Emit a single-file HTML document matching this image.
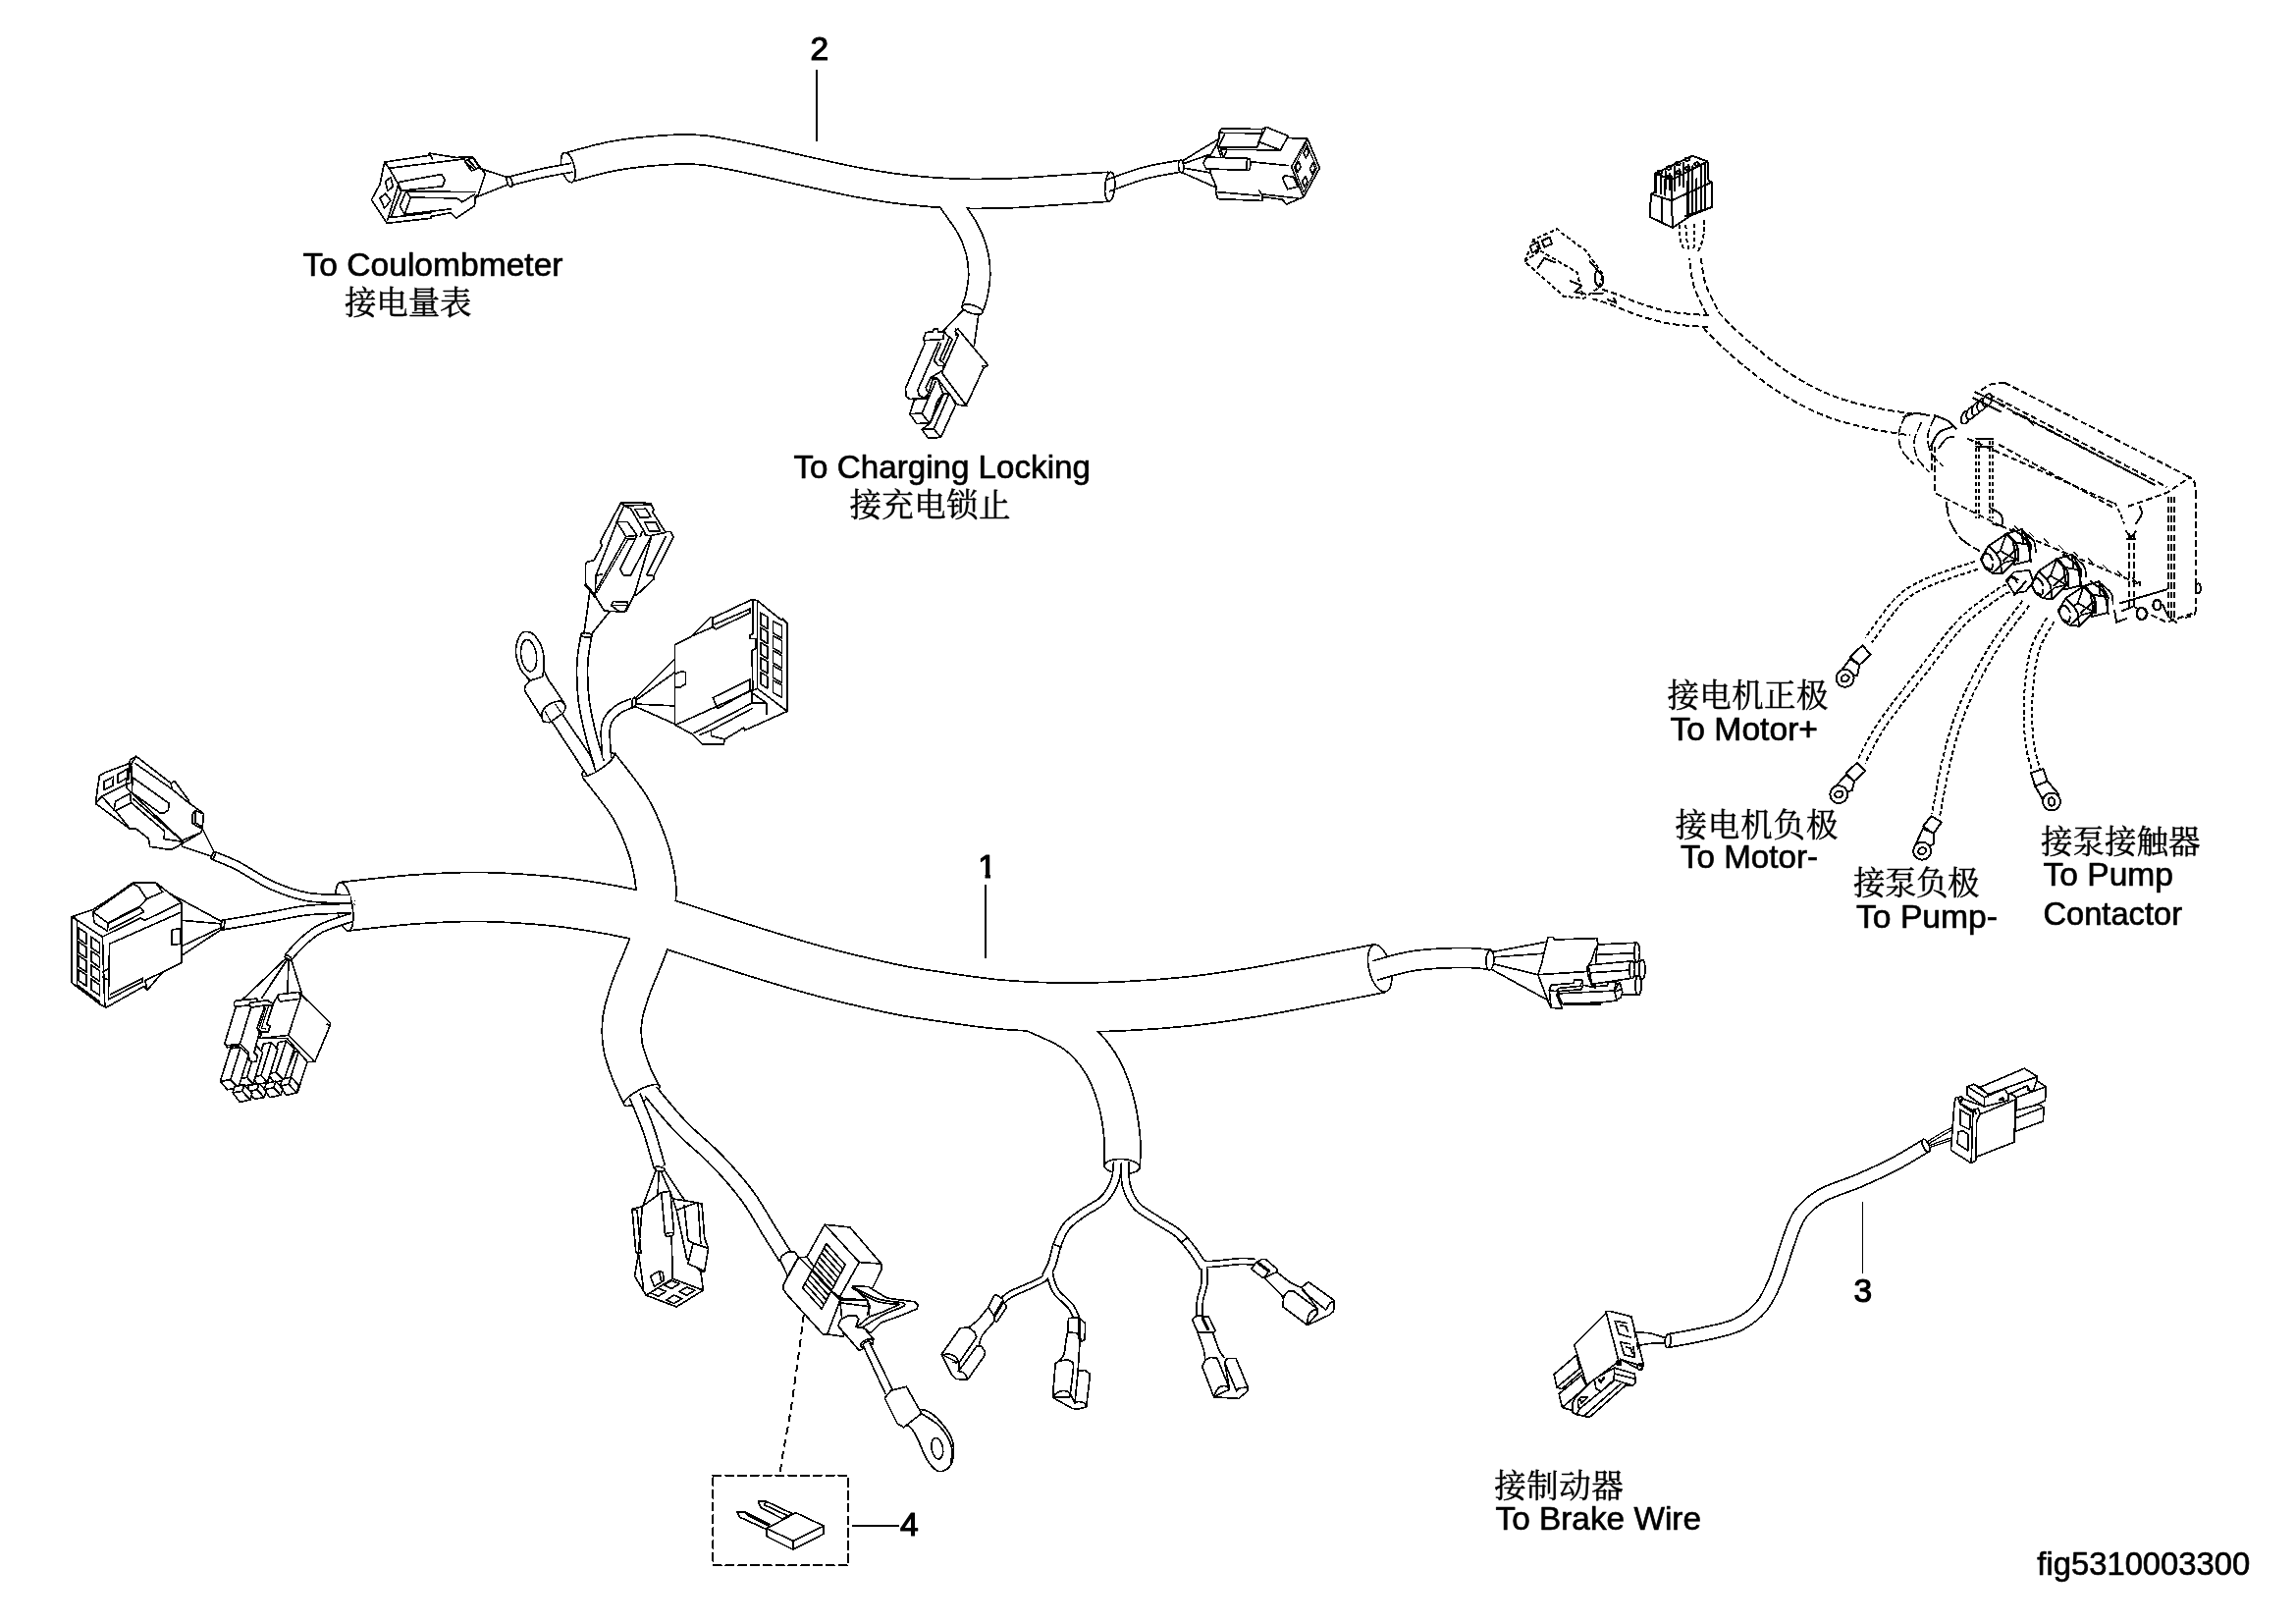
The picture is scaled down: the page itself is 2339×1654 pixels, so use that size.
<!DOCTYPE html>
<html lang="zh"><head><meta charset="utf-8"><title>fig5310003300</title>
<style>html,body{margin:0;padding:0;background:#fff}body{width:2339px;height:1654px;overflow:hidden}svg{display:block;filter:grayscale(1)}</style>
</head><body>
<svg width="2339" height="1654" viewBox="0 0 2339 1654" stroke-linejoin="round" stroke-linecap="round" shape-rendering="crispEdges">
<rect width="2339" height="1654" fill="#fff"/>
<path d="M578.8 170.6C586.5 168.6 608.8 161.8 625.3 158.8C641.8 155.8 662.4 153.8 677.6 152.8C692.9 151.8 701.5 151.3 716.8 153C732 154.7 751.7 159.1 769.1 162.7C786.5 166.3 803.9 170.7 821.3 174.5C838.7 178.3 856.2 182.5 873.6 185.7C891 188.9 908.5 191.7 925.9 193.6C943.3 195.5 960.7 196.7 978.1 197.2C995.5 197.7 1013 197.3 1030.4 196.7C1047.8 196 1065.9 194.4 1082.6 193.3C1099.3 192.2 1122.5 190.7 1130.5 190.2" fill="none" stroke="#000" stroke-width="31.7" stroke-linecap="butt" />
<path d="M966.4 204.5C969.7 209.3 981.2 224.6 986 233.3C990.8 242 993.1 249 995.1 256.8C997.1 264.6 997.8 272.7 997.7 280.3C997.6 287.9 995.8 296.9 994.6 302.5C993.4 308.1 991.4 311.9 990.7 313.8" fill="none" stroke="#000" stroke-width="23.7" stroke-linecap="butt" />
<path d="M578.8 170.6C586.5 168.6 608.8 161.8 625.3 158.8C641.8 155.8 662.4 153.8 677.6 152.8C692.9 151.8 701.5 151.3 716.8 153C732 154.7 751.7 159.1 769.1 162.7C786.5 166.3 803.9 170.7 821.3 174.5C838.7 178.3 856.2 182.5 873.6 185.7C891 188.9 908.5 191.7 925.9 193.6C943.3 195.5 960.7 196.7 978.1 197.2C995.5 197.7 1013 197.3 1030.4 196.7C1047.8 196 1065.9 194.4 1082.6 193.3C1099.3 192.2 1122.5 190.7 1130.5 190.2" fill="none" stroke="#fff" stroke-width="28.3" stroke-linecap="butt"/>
<path d="M966.4 204.5C969.7 209.3 981.2 224.6 986 233.3C990.8 242 993.1 249 995.1 256.8C997.1 264.6 997.8 272.7 997.7 280.3C997.6 287.9 995.8 296.9 994.6 302.5C993.4 308.1 991.4 311.9 990.7 313.8" fill="none" stroke="#fff" stroke-width="20.3" stroke-linecap="butt"/>
<ellipse cx="578.8" cy="170.6" rx="6.5" ry="15.5" transform="rotate(-14 578.8 170.6)" fill="#fff" stroke="#000" stroke-width="1.7" />
<path d="M582.7 170.7C577.5 171.7 562.4 174.2 551.7 176.5C541 178.8 524.2 183.3 518.7 184.7" fill="none" stroke="#000" stroke-width="10.7" stroke-linecap="butt" />
<path d="M582.7 170.7C577.5 171.7 562.4 174.2 551.7 176.5C541 178.8 524.2 183.3 518.7 184.7" fill="none" stroke="#fff" stroke-width="7.3" stroke-linecap="butt"/>
<ellipse cx="519.1" cy="184.8" rx="2.5" ry="5.5" transform="rotate(-20 519.1 184.8)" fill="#fff" stroke="#000" stroke-width="1.7" />
<path d="M391.7 165.1L437.2 158.3L437.2 156.1L441.9 156.8L463.9 160.4L481.9 160.1L488.2 169L494.4 176.8L487.4 198L484.3 200.3L483.5 209.8L464.7 222.3L459.2 216.8L438.8 220.4L438.8 222.3L394.1 227.3L378.4 203.5L387 187.8Z" fill="#fff" stroke="#000" stroke-width="1.7" />
<path d="M396.4 171.3L473.3 161.9" fill="none" stroke="#000" stroke-width="1.7" />
<path d="M391.7 165.1L396.4 171.3L405.9 187.8L394.9 223.9" fill="none" stroke="#000" stroke-width="1.7" />
<path d="M405.9 187.8L409 194.1L398 221.5L438.8 216.8" fill="none" stroke="#000" stroke-width="1.7" />
<path d="M392.5 184.7L398 180.7L400.4 190.2L394.9 194.1Z" fill="none" stroke="#000" stroke-width="1.7" />
<path d="M387 201.9L392.5 197.2L398 204.3L391.7 212.1Z" fill="none" stroke="#000" stroke-width="1.7" />
<path d="M405.9 185.5L449.8 177.6L453.2 183.1L451 189.7L407.7 194.4Z" fill="none" stroke="#000" stroke-width="1.7" />
<path d="M413.7 194.9L484.3 195.6" fill="none" stroke="#000" stroke-width="1.7" />
<path d="M413.7 194.9L407.4 209.8L412.1 218.4L418.4 201.1L465.4 201.9L470.9 205.8L483.5 198" fill="none" stroke="#000" stroke-width="1.7" />
<path d="M412.1 218.4L459.2 212.9" fill="none" stroke="#000" stroke-width="1.7" />
<path d="M413.7 194.9L418.4 201.1" fill="none" stroke="#000" stroke-width="1.7" />
<path d="M473.3 164.3L481.9 160.4L488.2 170.6L480.3 174Z" fill="none" stroke="#000" stroke-width="1.7" />
<path d="M475.2 165.9L483 172.4" fill="none" stroke="#000" stroke-width="1.7" />
<path d="M476.7 162.7L485 171.3" fill="none" stroke="#000" stroke-width="1.7" />
<path d="M488.2 171.3L517.2 180.7" fill="none" stroke="#000" stroke-width="1.7" />
<path d="M484.3 201.1L517.2 188.1" fill="none" stroke="#000" stroke-width="1.7" />
<path d="M440.3 161.9L438 156.4" fill="none" stroke="#000" stroke-width="1.7" />
<path d="M1128.1 189.2C1134.3 187.1 1153 179.7 1165.3 176.4C1177.6 173.1 1195.6 170.5 1201.7 169.3" fill="none" stroke="#000" stroke-width="13.7" stroke-linecap="butt" />
<path d="M1128.1 189.2C1134.3 187.1 1153 179.7 1165.3 176.4C1177.6 173.1 1195.6 170.5 1201.7 169.3" fill="none" stroke="#fff" stroke-width="10.3" stroke-linecap="butt"/>
<ellipse cx="1130.7" cy="190.2" rx="5" ry="15" transform="rotate(4 1130.7 190.2)" fill="none" stroke="#000" stroke-width="1.7" />
<ellipse cx="1203.2" cy="169.5" rx="2.6" ry="6.5" transform="rotate(-5 1203.2 169.5)" fill="#fff" stroke="#000" stroke-width="1.7" />
<path d="M1204.5 164L1241.1 141.8" fill="none" stroke="#000" stroke-width="1.7" />
<path d="M1205.8 166.6L1232 157.5" fill="none" stroke="#000" stroke-width="1.7" />
<path d="M1206.5 171.2L1232 175.8" fill="none" stroke="#000" stroke-width="1.7" />
<path d="M1204.5 175.8L1238.5 190.8" fill="none" stroke="#000" stroke-width="1.7" />
<path d="M1241.8 135.3L1244.4 130.7L1285.5 131.6L1290.1 129.4L1312.3 138.5L1311.7 140.5L1331.9 141.2L1344.3 171.2L1328 200.6L1310.4 208.2L1306.4 203.2L1286.8 200.6L1286.2 204.5L1240.5 202.6L1238.5 195.4L1239.2 190.8L1233.3 176.4L1232.6 158.8L1239.8 147L1241.8 141.8Z" fill="#fff" stroke="#000" stroke-width="1.7" />
<path d="M1241.8 135.3L1285.5 135.9L1285.5 131.6" fill="none" stroke="#000" stroke-width="1.7" />
<path d="M1247.6 136.6L1241.8 149" fill="none" stroke="#000" stroke-width="1.7" />
<path d="M1285.5 135.9L1281 149.7L1240.5 150.3" fill="none" stroke="#000" stroke-width="1.7" />
<path d="M1290.1 129.4L1312.3 138.5L1304.5 152.9L1282.3 144.4Z" fill="#fff" stroke="#000" stroke-width="1.7" />
<path d="M1245.7 158.8L1243.7 152.3L1303.8 152.9" fill="none" stroke="#000" stroke-width="1.7" />
<path d="M1249.6 153.6L1247 159.5" fill="none" stroke="#000" stroke-width="1.7" />
<path d="M1239.8 147L1243.7 158.8" fill="none" stroke="#000" stroke-width="1.7" />
<path d="M1229.4 160.1L1272.5 161.4L1271.2 173.4L1228.7 171.9L1225.7 166Z" fill="#fff" stroke="#000" stroke-width="1.7" />
<ellipse cx="1271.8" cy="167.4" rx="2" ry="6" transform="rotate(3 1271.8 167.4)" fill="#fff" stroke="#000" stroke-width="1.7" />
<path d="M1273.8 164.7L1312.3 168.6" fill="none" stroke="#000" stroke-width="1.7" />
<path d="M1331.9 141.2L1344.3 171.2L1328 200.6L1315.6 169.9Z" fill="#fff" stroke="#000" stroke-width="1.7" />
<path d="M1330.7 145.7L1341.5 171.2L1328.1 196L1318.5 170.2Z" fill="none" stroke="#000" stroke-width="1.2" />
<path d="M1327.9 155.7L1331 150L1333.4 155.4L1330.2 161Z" fill="none" stroke="#000" stroke-width="1.7" />
<path d="M1319.6 170L1322.8 164.4L1325.1 169.8L1322 175.4Z" fill="none" stroke="#000" stroke-width="1.7" />
<path d="M1334.4 171.7L1337.5 166.1L1339.9 171.5L1336.8 177.1Z" fill="none" stroke="#000" stroke-width="1.7" />
<path d="M1326.6 185.1L1329.7 179.4L1332.1 184.8L1328.9 190.4Z" fill="none" stroke="#000" stroke-width="1.7" />
<path d="M1306.4 181L1309.1 179.1L1317.6 180L1322.1 190.2L1311.7 192.8Z" fill="none" stroke="#000" stroke-width="1.7" />
<path d="M1238.5 195.4L1282.9 199.3" fill="none" stroke="#000" stroke-width="1.7" />
<path d="M1282.9 194.1L1286.2 199.3L1285.5 204.5" fill="none" stroke="#000" stroke-width="1.7" />
<path d="M1286.8 198L1322.1 201.9" fill="none" stroke="#000" stroke-width="1.7" />
<ellipse cx="990.6" cy="315.1" rx="11" ry="4.2" transform="rotate(17 990.6 315.1)" fill="#fff" stroke="#000" stroke-width="1.7" />
<path d="M981.8 315.1L960.7 337.3" fill="none" stroke="#000" stroke-width="1.7" />
<path d="M997 319.8L992.3 352.5" fill="none" stroke="#000" stroke-width="1.7" />
<path d="M975.9 335L1006.4 371.8L1001.7 375.4L984.1 413.4L975.4 412.2L954.9 385.3L947.9 384.7L960.7 377.1L976.5 340.8L973 337.3Z" fill="#fff" stroke="#000" stroke-width="1.7" />
<path d="M960.7 377.1L959.6 380L984.7 413.4" fill="none" stroke="#000" stroke-width="1.7" />
<path d="M943.2 338.5L950.2 337.9L951.4 335L954.9 335L956 337.9L961.9 337.9L967.2 343.8L957.2 366.6L961.9 370.1L960.7 377.1L947.9 384.7L943.2 394.7L944.3 398.2L947.3 399.3L942 405.2L940.8 406.1L926.8 406.4L923.3 404L922.4 395.8L942 350.2L940.8 344.9Z" fill="#fff" stroke="#000" stroke-width="1.7" />
<path d="M942 346.7L960.7 345.5L961.9 337.9" fill="none" stroke="#000" stroke-width="1.7" />
<path d="M956 349L935 397L936.2 402.8L942 405.2" fill="none" stroke="#000" stroke-width="1.7" />
<path d="M958.4 350.2L951.4 367.2L956 372.4L960.7 372.4" fill="none" stroke="#000" stroke-width="1.7" />
<path d="M964.2 340.8L970.1 345.5L960.7 366.6" fill="none" stroke="#000" stroke-width="1.7" />
<path d="M973.6 335L973.6 340.8L976.5 340.8" fill="none" stroke="#000" stroke-width="1.7" />
<path d="M1001.7 375.4L1001.1 372.4L1005.8 372.4" fill="none" stroke="#000" stroke-width="1.7" />
<path d="M931.5 406.9L926.8 421.6L933.8 431.5L946.7 430.9L949 427.4L954.9 408.7L960.7 400.5L954.9 385.3L950.2 386.5L944.3 405.8Z" fill="#fff" stroke="#000" stroke-width="1.7" />
<path d="M926.8 421.6L939.1 421L946.7 430.9" fill="none" stroke="#000" stroke-width="1.7" />
<path d="M939.1 421L953.1 388.8" fill="none" stroke="#000" stroke-width="1.7" />
<path d="M939.1 437.4L945.5 446.1L958.4 445.5L973.6 412.2L967.7 401.1L960.7 400.5L947.9 430.9Z" fill="#fff" stroke="#000" stroke-width="1.7" />
<path d="M939.1 437.4L951.4 436.8L958.4 445.5" fill="none" stroke="#000" stroke-width="1.7" />
<path d="M951.4 436.8L966.6 401.7" fill="none" stroke="#000" stroke-width="1.7" />
<path d="M949 427.4L961.9 400.5" fill="none" stroke="#000" stroke-width="1.7" />
<path d="M350.3 923.3C362.2 922.1 398.9 917.6 422 916C445.1 914.4 466.1 913.2 489 913.5C511.9 913.8 539.8 915.8 559.1 917.5C578.4 919.2 590.8 921.4 604.9 923.6C619 925.8 634 928.7 643.9 930.9C653.8 933.1 660.9 936 664.3 937" fill="none" stroke="#000" stroke-width="51.7" stroke-linecap="butt" />
<path d="M609.4 778.9C614.9 786.2 633.8 809.1 642.1 822.7C650.4 836.4 655 849.4 659.1 860.8C663.2 872.2 665.3 882.9 666.8 891.3C668.3 899.7 668.7 903.5 668.3 911.1C667.9 918.7 665 932.7 664.3 937" fill="none" stroke="#000" stroke-width="42.7" stroke-linecap="butt" />
<path d="M664.3 937C667.7 937.9 669.3 937.7 684.8 942.5C700.3 947.3 732.5 958.3 757.3 966C782.1 973.7 808.1 981.9 833.5 988.8C858.9 995.6 890.4 1002.9 909.8 1007.1C929.2 1011.3 932.4 1011.3 950 1013.9C967.6 1016.5 993.5 1020.7 1015.3 1022.7C1037.1 1024.7 1058.9 1025.7 1080.7 1026C1102.5 1026.3 1124.2 1025.7 1146 1024.7C1167.8 1023.7 1189.5 1022.1 1211.3 1019.8C1233.1 1017.5 1254.9 1014.2 1276.7 1010.7C1298.5 1007.2 1320.5 1002.7 1342 998.6C1363.5 994.5 1395.1 988.3 1405.7 986.2" fill="none" stroke="#000" stroke-width="51.7" stroke-linecap="butt" />
<path d="M664.3 937C663.6 941.2 663.9 950.6 660.4 962C656.9 973.4 647.4 993 643 1005.6C638.6 1018.2 635.5 1027.7 634.1 1037.6C632.7 1047.5 633 1055.9 634.5 1065.1C636 1074.2 639.8 1084.1 643 1092.5C646.2 1100.9 651.9 1111.6 653.7 1115.4" fill="none" stroke="#000" stroke-width="41.7" stroke-linecap="butt" />
<path d="M1035.6 1026.3C1038.7 1027.5 1044.5 1029 1054.2 1033.5C1063.9 1038 1082.7 1045.1 1093.7 1053.1C1104.7 1061.1 1113.1 1070.6 1120.2 1081.5C1127.3 1092.4 1132.4 1105.8 1136.2 1118.5C1140 1131.2 1141.9 1146 1143.1 1157.7C1144.2 1169.4 1143.1 1183.5 1143.1 1188.7" fill="none" stroke="#000" stroke-width="38.3" stroke-linecap="butt" />
<path d="M350.3 923.3C362.2 922.1 398.9 917.6 422 916C445.1 914.4 466.1 913.2 489 913.5C511.9 913.8 539.8 915.8 559.1 917.5C578.4 919.2 590.8 921.4 604.9 923.6C619 925.8 634 928.7 643.9 930.9C653.8 933.1 660.9 936 664.3 937" fill="none" stroke="#fff" stroke-width="48.3" stroke-linecap="butt"/>
<path d="M609.4 778.9C614.9 786.2 633.8 809.1 642.1 822.7C650.4 836.4 655 849.4 659.1 860.8C663.2 872.2 665.3 882.9 666.8 891.3C668.3 899.7 668.7 903.5 668.3 911.1C667.9 918.7 665 932.7 664.3 937" fill="none" stroke="#fff" stroke-width="39.3" stroke-linecap="butt"/>
<path d="M664.3 937C667.7 937.9 669.3 937.7 684.8 942.5C700.3 947.3 732.5 958.3 757.3 966C782.1 973.7 808.1 981.9 833.5 988.8C858.9 995.6 890.4 1002.9 909.8 1007.1C929.2 1011.3 932.4 1011.3 950 1013.9C967.6 1016.5 993.5 1020.7 1015.3 1022.7C1037.1 1024.7 1058.9 1025.7 1080.7 1026C1102.5 1026.3 1124.2 1025.7 1146 1024.7C1167.8 1023.7 1189.5 1022.1 1211.3 1019.8C1233.1 1017.5 1254.9 1014.2 1276.7 1010.7C1298.5 1007.2 1320.5 1002.7 1342 998.6C1363.5 994.5 1395.1 988.3 1405.7 986.2" fill="none" stroke="#fff" stroke-width="48.3" stroke-linecap="butt"/>
<path d="M664.3 937C663.6 941.2 663.9 950.6 660.4 962C656.9 973.4 647.4 993 643 1005.6C638.6 1018.2 635.5 1027.7 634.1 1037.6C632.7 1047.5 633 1055.9 634.5 1065.1C636 1074.2 639.8 1084.1 643 1092.5C646.2 1100.9 651.9 1111.6 653.7 1115.4" fill="none" stroke="#fff" stroke-width="38.3" stroke-linecap="butt"/>
<path d="M1035.6 1026.3C1038.7 1027.5 1044.5 1029 1054.2 1033.5C1063.9 1038 1082.7 1045.1 1093.7 1053.1C1104.7 1061.1 1113.1 1070.6 1120.2 1081.5C1127.3 1092.4 1132.4 1105.8 1136.2 1118.5C1140 1131.2 1141.9 1146 1143.1 1157.7C1144.2 1169.4 1143.1 1183.5 1143.1 1188.7" fill="none" stroke="#fff" stroke-width="34.9" stroke-linecap="butt"/>
<ellipse cx="350.9" cy="923.3" rx="8" ry="25" transform="rotate(-10 350.9 923.3)" fill="#fff" stroke="#000" stroke-width="1.7" />
<ellipse cx="653.7" cy="1115.4" rx="20.5" ry="6" transform="rotate(-28 653.7 1115.4)" fill="#fff" stroke="#000" stroke-width="1.7" />
<ellipse cx="609.4" cy="778.9" rx="19.6" ry="5" transform="rotate(-34 609.4 778.9)" fill="#fff" stroke="#000" stroke-width="1.7" />
<ellipse cx="1405.7" cy="986.2" rx="11" ry="24.5" transform="rotate(-14 1405.7 986.2)" fill="#fff" stroke="#000" stroke-width="1.7" />
<ellipse cx="1143.1" cy="1188" rx="18" ry="7.5" transform="rotate(3 1143.1 1188)" fill="#fff" stroke="#000" stroke-width="1.7" />
<path d="M358 935.1C357.2 935.3 358.2 934.3 353 936.1C347.8 937.9 334 941.9 326.6 945.7C319.2 949.5 314.1 954 308.6 958.9C303.1 963.8 295.9 972.6 293.4 975.3" fill="none" stroke="#000" stroke-width="10.1" stroke-linecap="butt" />
<path d="M357.8 925.3C356.8 925.3 359.4 925 351.8 925.3C344.2 925.6 324.8 925.8 312.2 927.2C299.6 928.6 290.3 931.2 276.1 933.7C261.9 936.2 235.1 940.7 226.9 942.1" fill="none" stroke="#000" stroke-width="11.3" stroke-linecap="butt" />
<path d="M356.8 915.7C356 915.7 359.2 916.1 351.8 915.7C344.4 915.3 324.8 915.7 312.2 913.3C299.6 910.9 287.7 906.5 276.1 901.3C264.5 896.1 252.3 887.1 242.5 882.1C232.7 877.1 221.5 873.1 217.3 871.3" fill="none" stroke="#000" stroke-width="10.1" stroke-linecap="butt" />
<path d="M358 935.1C357.2 935.3 358.2 934.3 353 936.1C347.8 937.9 334 941.9 326.6 945.7C319.2 949.5 314.1 954 308.6 958.9C303.1 963.8 295.9 972.6 293.4 975.3" fill="none" stroke="#fff" stroke-width="6.7" stroke-linecap="butt"/>
<path d="M357.8 925.3C356.8 925.3 359.4 925 351.8 925.3C344.2 925.6 324.8 925.8 312.2 927.2C299.6 928.6 290.3 931.2 276.1 933.7C261.9 936.2 235.1 940.7 226.9 942.1" fill="none" stroke="#fff" stroke-width="7.9" stroke-linecap="butt"/>
<path d="M356.8 915.7C356 915.7 359.2 916.1 351.8 915.7C344.4 915.3 324.8 915.7 312.2 913.3C299.6 910.9 287.7 906.5 276.1 901.3C264.5 896.1 252.3 887.1 242.5 882.1C232.7 877.1 221.5 873.1 217.3 871.3" fill="none" stroke="#fff" stroke-width="6.7" stroke-linecap="butt"/>
<path d="M610.3 777.1C608.8 772.2 604.2 758.3 601.6 747.5C599 736.7 596 724.4 594.6 712.4C593.2 700.4 592.8 686.4 593.3 675.5C593.8 664.6 596.7 651.7 597.4 646.9" fill="none" stroke="#000" stroke-width="12.7" stroke-linecap="butt" />
<path d="M618.2 772.5C618.1 767 615.6 747.4 617.3 739.2C619 731 623.8 727.4 628.4 723.5C633 719.6 642.2 716.9 645 715.6" fill="none" stroke="#000" stroke-width="10.7" stroke-linecap="butt" />
<path d="M610.3 777.1C608.8 772.2 604.2 758.3 601.6 747.5C599 736.7 596 724.4 594.6 712.4C593.2 700.4 592.8 686.4 593.3 675.5C593.8 664.6 596.7 651.7 597.4 646.9" fill="none" stroke="#fff" stroke-width="9.3" stroke-linecap="butt"/>
<path d="M618.2 772.5C618.1 767 615.6 747.4 617.3 739.2C619 731 623.8 727.4 628.4 723.5C633 719.6 642.2 716.9 645 715.6" fill="none" stroke="#fff" stroke-width="7.3" stroke-linecap="butt"/>
<path d="M1400.8 988.4C1407.3 986.8 1425.3 980.8 1440 978.6C1454.7 976.4 1475.9 975.6 1489 975.4C1502.1 975.2 1513.5 977 1518.4 977.3" fill="none" stroke="#000" stroke-width="21.7" stroke-linecap="butt" />
<path d="M1400.8 988.4C1407.3 986.8 1425.3 980.8 1440 978.6C1454.7 976.4 1475.9 975.6 1489 975.4C1502.1 975.2 1513.5 977 1518.4 977.3" fill="none" stroke="#fff" stroke-width="18.3" stroke-linecap="butt"/>
<path d="M646.6 1115.7C649 1121.6 656.6 1138.9 660.8 1151.1C665 1163.2 670 1182.3 671.9 1188.6" fill="none" stroke="#000" stroke-width="13.3" stroke-linecap="butt" />
<path d="M662.8 1111.6C668.1 1117.8 683.3 1137 694.4 1148.5C705.5 1160 718.1 1169.2 729.3 1180.9C740.5 1192.6 752.3 1205.9 761.6 1218.4C770.9 1230.9 778.4 1245.6 784.9 1255.9C791.4 1266.2 797.8 1276.3 800.4 1280.4" fill="none" stroke="#000" stroke-width="16.7" stroke-linecap="butt" />
<path d="M646.6 1115.7C649 1121.6 656.6 1138.9 660.8 1151.1C665 1163.2 670 1182.3 671.9 1188.6" fill="none" stroke="#fff" stroke-width="9.9" stroke-linecap="butt"/>
<path d="M662.8 1111.6C668.1 1117.8 683.3 1137 694.4 1148.5C705.5 1160 718.1 1169.2 729.3 1180.9C740.5 1192.6 752.3 1205.9 761.6 1218.4C770.9 1230.9 778.4 1245.6 784.9 1255.9C791.4 1266.2 797.8 1276.3 800.4 1280.4" fill="none" stroke="#fff" stroke-width="13.3" stroke-linecap="butt"/>
<path d="M1068.1 1294.9C1067.3 1296.1 1066.7 1299.8 1063.5 1302.3C1060.3 1304.8 1054.5 1307 1048.9 1309.6C1043.3 1312.2 1034.7 1315.4 1030 1318C1025.3 1320.6 1022.2 1324.1 1020.6 1325.3" fill="none" stroke="#000" stroke-width="7.7" stroke-linecap="butt" />
<path d="M1069.4 1294.9C1069.6 1296.3 1069.7 1299.8 1070.8 1303.3C1071.9 1306.8 1072.8 1311.4 1076.1 1315.9C1079.4 1320.4 1087.2 1326 1090.7 1330.5C1094.2 1335 1096 1341 1097 1343.1" fill="none" stroke="#000" stroke-width="7.7" stroke-linecap="butt" />
<path d="M1226.4 1286.6C1226.5 1290.1 1227.4 1301.2 1226.8 1307.5C1226.2 1313.8 1223.4 1318.6 1222.6 1324.2C1221.8 1329.8 1222.3 1338.2 1222.2 1341" fill="none" stroke="#000" stroke-width="7.7" stroke-linecap="butt" />
<path d="M1223.7 1284.5C1224.6 1285 1225.6 1287.2 1228.9 1287.6C1232.2 1287.9 1237.7 1287.1 1243.6 1286.6C1249.5 1286.1 1258.6 1284.7 1264.5 1284.5C1270.4 1284.3 1276.8 1285.3 1279.2 1285.5" fill="none" stroke="#000" stroke-width="7.7" stroke-linecap="butt" />
<path d="M1138.5 1183.5C1138 1186.7 1138.2 1196.4 1135.8 1202.8C1133.4 1209.2 1129.6 1216.3 1124.2 1221.7C1118.8 1227.1 1109.6 1230.8 1103.3 1235.3C1097 1239.8 1091 1243.5 1086.6 1248.9C1082.2 1254.3 1079.5 1261.4 1077.1 1267.7C1074.6 1274 1073.8 1281.2 1071.9 1286.6C1070 1292 1066.6 1297.9 1065.6 1300.2" fill="none" stroke="#000" stroke-width="9.7" stroke-linecap="butt" />
<path d="M1146.2 1183.5C1146.4 1187.4 1145.4 1199.6 1147.3 1207C1149.2 1214.4 1152.5 1222 1157.7 1227.9C1162.9 1233.8 1172.1 1238.2 1178.7 1242.6C1185.3 1247 1192.8 1250.6 1197.5 1254.1C1202.2 1257.6 1203.4 1259.5 1206.9 1263.5C1210.4 1267.5 1215.2 1273.7 1218.4 1278.2C1221.6 1282.7 1224.6 1288.6 1225.8 1290.7" fill="none" stroke="#000" stroke-width="9.7" stroke-linecap="butt" />
<path d="M1068.1 1294.9C1067.3 1296.1 1066.7 1299.8 1063.5 1302.3C1060.3 1304.8 1054.5 1307 1048.9 1309.6C1043.3 1312.2 1034.7 1315.4 1030 1318C1025.3 1320.6 1022.2 1324.1 1020.6 1325.3" fill="none" stroke="#fff" stroke-width="4.3" stroke-linecap="butt"/>
<path d="M1069.4 1294.9C1069.6 1296.3 1069.7 1299.8 1070.8 1303.3C1071.9 1306.8 1072.8 1311.4 1076.1 1315.9C1079.4 1320.4 1087.2 1326 1090.7 1330.5C1094.2 1335 1096 1341 1097 1343.1" fill="none" stroke="#fff" stroke-width="4.3" stroke-linecap="butt"/>
<path d="M1226.4 1286.6C1226.5 1290.1 1227.4 1301.2 1226.8 1307.5C1226.2 1313.8 1223.4 1318.6 1222.6 1324.2C1221.8 1329.8 1222.3 1338.2 1222.2 1341" fill="none" stroke="#fff" stroke-width="4.3" stroke-linecap="butt"/>
<path d="M1223.7 1284.5C1224.6 1285 1225.6 1287.2 1228.9 1287.6C1232.2 1287.9 1237.7 1287.1 1243.6 1286.6C1249.5 1286.1 1258.6 1284.7 1264.5 1284.5C1270.4 1284.3 1276.8 1285.3 1279.2 1285.5" fill="none" stroke="#fff" stroke-width="4.3" stroke-linecap="butt"/>
<path d="M1138.5 1183.5C1138 1186.7 1138.2 1196.4 1135.8 1202.8C1133.4 1209.2 1129.6 1216.3 1124.2 1221.7C1118.8 1227.1 1109.6 1230.8 1103.3 1235.3C1097 1239.8 1091 1243.5 1086.6 1248.9C1082.2 1254.3 1079.5 1261.4 1077.1 1267.7C1074.6 1274 1073.8 1281.2 1071.9 1286.6C1070 1292 1066.6 1297.9 1065.6 1300.2" fill="none" stroke="#fff" stroke-width="6.3" stroke-linecap="butt"/>
<path d="M1146.2 1183.5C1146.4 1187.4 1145.4 1199.6 1147.3 1207C1149.2 1214.4 1152.5 1222 1157.7 1227.9C1162.9 1233.8 1172.1 1238.2 1178.7 1242.6C1185.3 1247 1192.8 1250.6 1197.5 1254.1C1202.2 1257.6 1203.4 1259.5 1206.9 1263.5C1210.4 1267.5 1215.2 1273.7 1218.4 1278.2C1221.6 1282.7 1224.6 1288.6 1225.8 1290.7" fill="none" stroke="#fff" stroke-width="6.3" stroke-linecap="butt"/>
<path d="M1072.7 1267.1L1081.5 1270.2" fill="none" stroke="#000" stroke-width="1.7" />
<path d="M1203.8 1265L1209.4 1261" fill="none" stroke="#000" stroke-width="1.7" />
<ellipse cx="217.3" cy="871.3" rx="1.5" ry="4" transform="rotate(25 217.3 871.3)" fill="#fff" stroke="#000" stroke-width="1.7" />
<path d="M204.9 841.3L218.6 868.6" fill="none" stroke="#000" stroke-width="1.7" />
<path d="M185.3 862L215.6 872.3" fill="none" stroke="#000" stroke-width="1.7" />
<path d="M101.5 789.6L107.4 786.6L132.1 777.4L132.5 773.7L138.8 770.3L174.2 797.7L177.9 795.5L192 815L192.3 817.6L207.5 828.7L206.4 840.5L204.9 847.9L185.3 859.4L175.7 864.9L169.8 864.9L152.8 862.3L151.3 854.2L138.8 844.2L132.5 844.2L97.4 818.4L99.6 801.4Z" fill="#fff" stroke="#000" stroke-width="1.7" />
<path d="M97.4 818.4L103.7 811L129.2 798.4L134.3 796.9L133.6 778.5L138.8 770.3" fill="none" stroke="#000" stroke-width="1.7" />
<path d="M132.1 777.4L131.4 793.3L128.4 794.7L129.2 802.9L185.3 856.1" fill="none" stroke="#000" stroke-width="1.7" />
<path d="M105.9 796.2L115.5 791L115.1 799.9L105.9 804.7Z" fill="none" stroke="#000" stroke-width="1.7" />
<path d="M120.3 788.4L130.3 782.9L130.3 791.8L119.9 797.7Z" fill="none" stroke="#000" stroke-width="1.7" />
<path d="M138 777.7L175 803.6L174.2 797.7" fill="none" stroke="#000" stroke-width="1.7" />
<path d="M175 803.6L192 817.6" fill="none" stroke="#000" stroke-width="1.7" />
<path d="M135.1 791.8L172.4 818.4L171.3 825L166.8 828.3L163.5 828.3L134.3 807.3Z" fill="none" stroke="#000" stroke-width="1.7" />
<path d="M103.7 811L116.2 825L117.7 816.2L132.5 808L133.6 817.6L117.7 825.8L116.2 825" fill="none" stroke="#000" stroke-width="1.7" />
<path d="M117.7 825.8L132.5 844.2" fill="none" stroke="#000" stroke-width="1.7" />
<path d="M133.6 817.6L167.6 846.5L167.2 854.6L183.1 856.8" fill="none" stroke="#000" stroke-width="1.7" />
<path d="M135.8 813.9L185.3 856.1L204.9 847.9" fill="none" stroke="#000" stroke-width="1.7" />
<path d="M185.3 859.4L185.3 856.1" fill="none" stroke="#000" stroke-width="2.5" />
<path d="M196.4 828.7L199.4 825.8L207.5 828.7L206.4 840.5L204.5 843.5L195.7 838.3Z" fill="none" stroke="#000" stroke-width="1.7" />
<path d="M199.4 827.2L198.6 837.6L204.5 841.3" fill="none" stroke="#000" stroke-width="1.7" />
<ellipse cx="226.9" cy="942.1" rx="1.6" ry="5.5" transform="rotate(10 226.9 942.1)" fill="#fff" stroke="#000" stroke-width="1.7" />
<path d="M225.7 938.5L165.7 906.1" fill="none" stroke="#000" stroke-width="1.7" />
<path d="M225.7 940.9L184.9 937.3" fill="none" stroke="#000" stroke-width="1.7" />
<path d="M225.7 944.5L184.9 963.7" fill="none" stroke="#000" stroke-width="1.7" />
<path d="M226.9 945.7L184.9 973.3" fill="none" stroke="#000" stroke-width="1.7" />
<path d="M73.2 933.7L94.8 926.5L115.2 913.3L135.6 898.9L158.5 898.9L184.9 919.3L184.9 980.5L165.7 990.1L150.1 1008.2L146.5 1004.6L108 1026.2L103.2 1023.8L73.2 1001Z" fill="#fff" stroke="#000" stroke-width="1.7" />
<path d="M73.2 933.7L104.4 954.1L106.8 1025" fill="none" stroke="#000" stroke-width="1.7" />
<path d="M104.4 954.1L142.9 934.9L147.7 937.3L184.9 919.3" fill="none" stroke="#000" stroke-width="1.7" />
<path d="M75.9 934L78.5 938.3L78.5 1002.9L101.4 1020.2" fill="none" stroke="#000" stroke-width="1.7" />
<path d="M79.8 944.7L88 950.3L88 961.6L79.8 955.9Z" fill="none" stroke="#000" stroke-width="1.7" />
<path d="M92.8 954.2L101.4 960.3L101.4 971L92.8 965Z" fill="none" stroke="#000" stroke-width="1.7" />
<path d="M79.8 959L88 964.6L88 975.8L79.8 970.2Z" fill="none" stroke="#000" stroke-width="1.7" />
<path d="M92.8 968.4L101.4 974.5L101.4 985.3L92.8 979.2Z" fill="none" stroke="#000" stroke-width="1.7" />
<path d="M79.8 973.2L88 978.8L88 990L79.8 984.4Z" fill="none" stroke="#000" stroke-width="1.7" />
<path d="M92.8 982.7L101.4 988.7L101.4 999.5L92.8 993.4Z" fill="none" stroke="#000" stroke-width="1.7" />
<path d="M79.8 987.4L88 993L88 1004.2L79.8 998.6Z" fill="none" stroke="#000" stroke-width="1.7" />
<path d="M92.8 996.9L101.4 1002.9L101.4 1013.7L92.8 1007.7Z" fill="none" stroke="#000" stroke-width="1.7" />
<path d="M94.8 928.9L96 939.7L109.2 948.1L110.4 939.7L142.9 922.9L149.3 915.7L141.7 903.7L135.6 900.1L115.2 914.5Z" fill="#fff" stroke="#000" stroke-width="1.7" />
<path d="M109.2 939.7L94.8 928.9" fill="none" stroke="#000" stroke-width="1.7" />
<path d="M149.3 915.7L165.7 908.5L158.5 898.9" fill="none" stroke="#000" stroke-width="1.7" />
<path d="M110.4 939.7L109.2 948.1" fill="none" stroke="#000" stroke-width="1.7" />
<path d="M111.6 939.7L142.9 924.1L146.5 928.9L111.6 946.9" fill="none" stroke="#000" stroke-width="1.7" />
<path d="M175.3 946.9L183.7 945.7L183.7 961.3L175.3 962.5Z" fill="none" stroke="#000" stroke-width="1.7" />
<path d="M111.6 961.3L110.4 1017.8L145.3 999.8L145.3 996.2L112.4 1013" fill="none" stroke="#000" stroke-width="1.7" />
<path d="M111.6 961.3L184.9 928.9" fill="none" stroke="#000" stroke-width="1.7" />
<path d="M104.4 990.1L110.4 986.5" fill="none" stroke="#000" stroke-width="1.7" />
<path d="M104.4 995L109.2 997.4" fill="none" stroke="#000" stroke-width="1.7" />
<path d="M150.1 1008.2L147.7 998.6L165.7 990.1" fill="none" stroke="#000" stroke-width="1.7" />
<ellipse cx="293.4" cy="975.3" rx="3.5" ry="1.8" transform="rotate(30 293.4 975.3)" fill="#fff" stroke="#000" stroke-width="1.7" />
<path d="M291.7 975.7L247.3 1017.8" fill="none" stroke="#000" stroke-width="1.7" />
<path d="M292.9 976.9L266.5 1016.6" fill="none" stroke="#000" stroke-width="1.7" />
<path d="M294.1 976.9L292.9 1010.6" fill="none" stroke="#000" stroke-width="1.7" />
<path d="M296.5 976.9L307.4 1011.8" fill="none" stroke="#000" stroke-width="1.7" />
<path d="M300.5 1071.2L304.5 1070.4L313.3 1078.4L312.5 1083.3L302.9 1112.9L291.7 1115.3L285.2 1106.5Z" fill="#fff" stroke="#000" stroke-width="1.7" />
<path d="M304.5 1070.4L294.1 1104.1L302.1 1112.9" fill="none" stroke="#000" stroke-width="1.7" />
<path d="M294.1 1104.1L285.2 1106.5" fill="none" stroke="#000" stroke-width="1.7" />
<path d="M273.2 1093.7L283.6 1061.6L291.7 1060L299.7 1068.4L289.2 1100.5L278.8 1102.1Z" fill="#fff" stroke="#000" stroke-width="1.7" />
<path d="M273.2 1093.7L281.2 1092.1L289.2 1100.5" fill="none" stroke="#000" stroke-width="1.7" />
<path d="M281.2 1092.1L291.7 1060" fill="none" stroke="#000" stroke-width="1.7" />
<path d="M258 1096.9L268.4 1063.2L276.4 1061.6L282.8 1068.8L272.4 1102.5L262 1104.5Z" fill="#fff" stroke="#000" stroke-width="1.7" />
<path d="M258 1096.9L266 1095.3L272.4 1102.5" fill="none" stroke="#000" stroke-width="1.7" />
<path d="M266 1095.3L276.4 1061.6" fill="none" stroke="#000" stroke-width="1.7" />
<path d="M240.8 1099.7L250.4 1067.6L261.2 1065.2L267.6 1072L258 1104.1L246 1106.5Z" fill="#fff" stroke="#000" stroke-width="1.7" />
<path d="M240.8 1099.7L251.6 1097.3L258 1104.1" fill="none" stroke="#000" stroke-width="1.7" />
<path d="M251.6 1097.3L261.2 1065.2" fill="none" stroke="#000" stroke-width="1.7" />
<path d="M224.4 1101.3L234.8 1068L245.2 1066.4L253.2 1074.8L242.8 1108.1L231.6 1109.7Z" fill="#fff" stroke="#000" stroke-width="1.7" />
<path d="M224.4 1101.3L234.8 1099.7L242.8 1108.1" fill="none" stroke="#000" stroke-width="1.7" />
<path d="M234.8 1099.7L245.2 1066.4" fill="none" stroke="#000" stroke-width="1.7" />
<path d="M285.2 1106.5L287.6 1099.3L296.5 1096.9L304.5 1105.7L302.1 1112.9L291.7 1115.3Z" fill="#fff" stroke="#000" stroke-width="1.7" />
<path d="M285.2 1106.5L294.1 1104.1L302.1 1112.9" fill="none" stroke="#000" stroke-width="1.7" />
<path d="M294.1 1104.1L296.5 1096.9" fill="none" stroke="#000" stroke-width="1.7" />
<path d="M269.2 1109.7L271.2 1103.3L280.8 1101.3L288 1108.9L286 1115.3L274.8 1117.7Z" fill="#fff" stroke="#000" stroke-width="1.7" />
<path d="M269.2 1109.7L278.8 1107.7L286 1115.3" fill="none" stroke="#000" stroke-width="1.7" />
<path d="M278.8 1107.7L280.8 1101.3" fill="none" stroke="#000" stroke-width="1.7" />
<path d="M251.6 1112.1L253.6 1105.7L264 1103.3L271.2 1111.3L269.2 1117.7L259.6 1119.3Z" fill="#fff" stroke="#000" stroke-width="1.7" />
<path d="M251.6 1112.1L262 1109.7L269.2 1117.7" fill="none" stroke="#000" stroke-width="1.7" />
<path d="M262 1109.7L264 1103.3" fill="none" stroke="#000" stroke-width="1.7" />
<path d="M237.2 1112.9L239.2 1106.5L248.8 1104.9L256.8 1113.7L254.8 1120.1L244.4 1122.5Z" fill="#fff" stroke="#000" stroke-width="1.7" />
<path d="M237.2 1112.9L246.8 1111.3L254.8 1120.1" fill="none" stroke="#000" stroke-width="1.7" />
<path d="M246.8 1111.3L248.8 1104.9" fill="none" stroke="#000" stroke-width="1.7" />
<path d="M304.9 1010.8L336.5 1042L336.1 1044.8L320.9 1081.2L313.3 1081.7L292.5 1057.6L264.4 1057.6L278 1023.2L282.4 1014.8Z" fill="#fff" stroke="#000" stroke-width="1.7" />
<path d="M306.1 1016.8L293.7 1054.4L320.9 1081.2" fill="none" stroke="#000" stroke-width="1.7" />
<path d="M293.7 1054.4L264.4 1057.6" fill="none" stroke="#000" stroke-width="1.7" />
<path d="M333.3 1043.2L336.1 1044.8" fill="none" stroke="#000" stroke-width="1.7" />
<path d="M282.4 1014.8L284 1012.8L304.5 1010.4L306.5 1017.2L285.2 1020Z" fill="#fff" stroke="#000" stroke-width="1.7" />
<path d="M240.4 1025.2L253.6 1024L255.6 1026.4L244.4 1063.2L230.8 1064.8L228.8 1062.8Z" fill="#fff" stroke="#000" stroke-width="1.7" />
<path d="M255.6 1026.4L267.6 1024L269.6 1025.6L262 1047.2L264.4 1051.2L258.8 1072L262 1075.2L261.2 1080.8L257.2 1081.7L254 1080L253.2 1072L244.4 1063.2Z" fill="#fff" stroke="#000" stroke-width="1.7" />
<path d="M230.8 1064.8L231.2 1066.8L243.6 1064.8" fill="none" stroke="#000" stroke-width="1.7" />
<path d="M267.6 1024L278 1023.2L271.6 1043.2L275.2 1044.8L273.2 1051.2L266 1051.2L262 1047.2L269.2 1026.4Z" fill="#fff" stroke="#000" stroke-width="1.7" />
<path d="M270.8 1026.4L264.4 1046.8" fill="none" stroke="#000" stroke-width="1.2" />
<path d="M273.2 1025.6L266.4 1047.2L270.8 1048" fill="none" stroke="#000" stroke-width="1.2" />
<path d="M238.4 1021.6L240 1019.2L261.2 1017.2L262.8 1019.2L262 1023.2L240.4 1025.2L238.4 1024Z" fill="#fff" stroke="#000" stroke-width="1.7" />
<path d="M253.6 1023.2L254.8 1021.2L272.4 1018.8L278 1022.4L278 1024L269.2 1024L255.6 1026Z" fill="#fff" stroke="#000" stroke-width="1.7" />
<ellipse cx="597.5" cy="646.9" rx="5.5" ry="2.2" transform="rotate(8 597.5 646.9)" fill="#fff" stroke="#000" stroke-width="1.7" />
<path d="M600.8 603.1L595 645.1" fill="none" stroke="#000" stroke-width="1.7" />
<path d="M621.6 622.2L602.9 645.5" fill="none" stroke="#000" stroke-width="1.7" />
<path d="M632.8 511.6L662.7 512.5L666 518.7L664.8 521.6L677.7 541.6L683.5 541.6L686 547L666 586.5L666.5 589.4L648.2 606.4L646.1 606L638.2 622.2L636.1 623L615.8 622.2L606.2 607.2L596.6 595.6L596.6 574.8L597.9 572.3L605 570.7L613.3 555.7L611.6 551.5Z" fill="#fff" stroke="#000" stroke-width="1.7" />
<path d="M632.8 511.6L635.7 515L663.1 514.1" fill="none" stroke="#000" stroke-width="1.7" />
<path d="M635.7 515L642.4 517.9L656.5 541.6L657.3 544.9L662.3 545.7L678.1 542.4" fill="none" stroke="#000" stroke-width="1.7" />
<path d="M646.9 518.7L658.2 518.3L663.1 526.6L651.9 527Z" fill="none" stroke="#000" stroke-width="1.7" />
<path d="M656.5 531.6L668.1 532L672.3 540.7L661.1 540.7Z" fill="none" stroke="#000" stroke-width="1.7" />
<path d="M635.7 515L628.2 531.6L639.4 531.6L649 545.3L637.8 546.6L628.2 531.6" fill="none" stroke="#000" stroke-width="1.7" />
<path d="M628.2 532.8L607 586.5L606.2 607.2" fill="none" stroke="#000" stroke-width="1.7" />
<path d="M607 586.5L613.7 584.8" fill="none" stroke="#000" stroke-width="1.7" />
<path d="M637.8 546.6L606.6 602.7" fill="none" stroke="#000" stroke-width="1.7" />
<path d="M639.9 549L607.9 603.9" fill="none" stroke="#000" stroke-width="1.2" />
<path d="M639 548.6L647.3 549L649 545.3" fill="none" stroke="#000" stroke-width="1.7" />
<path d="M647.3 549L631.6 579.8L635.3 586L642.4 586L662.7 547.4" fill="none" stroke="#000" stroke-width="1.7" />
<path d="M663.6 546.6L646.5 605.6" fill="none" stroke="#000" stroke-width="1.7" />
<path d="M678.1 546.6L658.6 585.6L666 586.5" fill="none" stroke="#000" stroke-width="1.7" />
<path d="M596.6 595.6L606.2 607.2" fill="none" stroke="#000" stroke-width="3" />
<path d="M654 541.6L652.3 546.6" fill="none" stroke="#000" stroke-width="1.7" />
<path d="M622.4 616.4L624.9 612.6L639 613.1L639.9 616.4L636.1 623L631.1 623Z" fill="none" stroke="#000" stroke-width="1.7" />
<path d="M624.9 616.4L638.2 616.4" fill="none" stroke="#000" stroke-width="1.7" />
<ellipse cx="645.9" cy="715.2" rx="2" ry="5" transform="rotate(10 645.9 715.2)" fill="#fff" stroke="#000" stroke-width="1.7" />
<path d="M646.9 711.5L687.5 670.9" fill="none" stroke="#000" stroke-width="1.7" />
<path d="M647.8 713.4L687.5 684.7" fill="none" stroke="#000" stroke-width="1.7" />
<path d="M648.7 717.1L687.5 718.9" fill="none" stroke="#000" stroke-width="1.7" />
<path d="M647.8 719.8L687.5 737.4" fill="none" stroke="#000" stroke-width="1.7" />
<path d="M687.5 657L705 647.8L724.4 628.4L726.3 629.3L766 610.5L771.6 611.8L795.6 631.2L797.4 630.2L802 634.9L802 724.4L758.6 743.8L757.7 741.1L738.3 753.1L737.4 757.7L715.2 757.7L705 747.5L687.5 738.3Z" fill="#fff" stroke="#000" stroke-width="1.7" />
<path d="M705 647.8L726.3 638.5L726.3 629.3" fill="none" stroke="#000" stroke-width="1.7" />
<path d="M726.3 638.5L729.1 640.8L764.2 624.1L764.2 620.1L728.1 635.8" fill="none" stroke="#000" stroke-width="1.7" />
<path d="M766.9 610.8L766.9 645.9L764.2 646.9L764.2 650.6L769.7 650.6L769.7 660.7L766 662.6L766.9 703.2" fill="none" stroke="#000" stroke-width="1.7" />
<path d="M771.6 611.8L771.6 701.4L802 724.4" fill="none" stroke="#000" stroke-width="1.7" />
<path d="M771.6 701.4L766.9 703.2" fill="none" stroke="#000" stroke-width="1.7" />
<path d="M774.7 624.1L781.7 628.2L781.7 640.4L774.7 636Z" fill="none" stroke="#000" stroke-width="1.7" />
<path d="M787.6 632.5L796.5 637.4L796.5 650L787.6 644.8Z" fill="none" stroke="#000" stroke-width="1.7" />
<path d="M774.7 639.3L781.7 643.3L781.7 655.5L774.7 651.1Z" fill="none" stroke="#000" stroke-width="1.7" />
<path d="M787.6 647.6L796.5 652.6L796.5 665.1L787.6 660Z" fill="none" stroke="#000" stroke-width="1.7" />
<path d="M774.7 654.4L781.7 658.5L781.7 670.7L774.7 666.3Z" fill="none" stroke="#000" stroke-width="1.7" />
<path d="M787.6 662.7L796.5 667.7L796.5 680.3L787.6 675.1Z" fill="none" stroke="#000" stroke-width="1.7" />
<path d="M774.7 669.6L781.7 673.6L781.7 685.8L774.7 681.4Z" fill="none" stroke="#000" stroke-width="1.7" />
<path d="M787.6 677.9L796.5 682.9L796.5 695.4L787.6 690.3Z" fill="none" stroke="#000" stroke-width="1.7" />
<path d="M774.7 684.7L781.7 688.8L781.7 701L774.7 696.6Z" fill="none" stroke="#000" stroke-width="1.7" />
<path d="M787.6 693L796.5 698L796.5 710.6L787.6 705.4Z" fill="none" stroke="#000" stroke-width="1.7" />
<path d="M688.4 738.3L766 703.2" fill="none" stroke="#000" stroke-width="1.7" />
<path d="M726.3 710.6L764.2 692.1L764.2 703.2L730.9 721.7Z" fill="none" stroke="#000" stroke-width="1.7" />
<path d="M687.5 686.6L694 683.8L698.6 684.7L698.6 696.7L692.1 700.4L687.5 699.5Z" fill="none" stroke="#000" stroke-width="1.7" />
<path d="M706.9 746.6L766 716.1L780.8 716.1L780.8 727.2" fill="none" stroke="#000" stroke-width="1.7" />
<path d="M724.4 743.8L724.4 749.4L738.3 753.1" fill="none" stroke="#000" stroke-width="1.7" />
<path d="M766 705L766 716.1" fill="none" stroke="#000" stroke-width="1.7" />
<path d="M712.4 748.5L724.4 743.8L766 721.7" fill="none" stroke="#000" stroke-width="1.7" />
<path d="M767.9 706.9L780.8 716.1" fill="none" stroke="#000" stroke-width="1.7" />
<path d="M555.3 724.2L565.8 716.9L601.9 770.3L607.1 786L597.7 789.1Z" fill="#fff" stroke="#000" stroke-width="0.1" stroke="none"/>
<path d="M555.3 724.2L597.7 789.1" fill="none" stroke="#000" stroke-width="1.7" />
<path d="M565.8 716.9L601.9 770.3L607.1 786" fill="none" stroke="#000" stroke-width="1.7" />
<path d="M539.6 692.8C538 690.7 532.1 685.4 529.7 680.2C527.4 675 525.3 667.1 525.5 661.4C525.7 655.6 528.3 648.6 530.7 645.7C533.1 642.8 537.3 643.2 540.1 644.1C542.9 645 545.3 647.7 547.5 650.9C549.7 654.1 552.1 658.3 553.2 663.5C554.3 668.7 554 678 553.9 682.3C553.8 686.6 552.9 688 552.7 689.1" fill="#fff" stroke="#000" stroke-width="1.7" />
<ellipse cx="538.6" cy="667.7" rx="7.9" ry="16.2" transform="rotate(-8 538.6 667.7)" fill="none" stroke="#000" stroke-width="1.7" />
<path d="M534.9 699.1L539.6 693.3L552.7 689.1L553.9 682.3L559 692.8L574.7 715.8L576.2 721.1L573.6 726.3L560 735.7L553.7 735.2L551.6 730.5L534.4 703.3Z" fill="#fff" stroke="#000" stroke-width="1.7" />
<path d="M551.6 730.5C551.9 729.3 551.8 725.5 553.2 723.2C554.6 720.9 557 718.4 560 716.9C563 715.4 568.8 713.9 571.5 714.3C574.2 714.6 575.4 718.2 576.2 719" fill="none" stroke="#000" stroke-width="1.7" />
<path d="M555.3 724.2L561.1 734.7" fill="none" stroke="#000" stroke-width="1.2" />
<path d="M565.8 717.4L572.6 726.8" fill="none" stroke="#000" stroke-width="1.2" />
<ellipse cx="671.9" cy="1190.7" rx="5" ry="2.3" transform="rotate(10 671.9 1190.7)" fill="#fff" stroke="#000" stroke-width="1.7" />
<path d="M668.5 1191.2L654.3 1230" fill="none" stroke="#000" stroke-width="1.7" />
<path d="M671.1 1193.8L669.8 1224.8" fill="none" stroke="#000" stroke-width="1.7" />
<path d="M673.7 1193.8L682.8 1214.5" fill="none" stroke="#000" stroke-width="1.7" />
<path d="M676.3 1191.2L700.9 1227.4" fill="none" stroke="#000" stroke-width="1.7" />
<path d="M644 1231.3L654.3 1228.7L673.7 1214.5L682.8 1213.2L685.3 1220.9L709.9 1224.8L715.1 1226.1L717.7 1261L721.6 1271.4L717.7 1294.7L713.8 1294.7L716.4 1314.1L689.2 1330.9L658.2 1319.2L646.6 1299.8L650.4 1276.6L647.8 1275.3Z" fill="#fff" stroke="#000" stroke-width="1.7" />
<path d="M644 1231.3L649.1 1232.6L653 1276.6L647.8 1275.3" fill="none" stroke="#000" stroke-width="1.7" />
<path d="M654.3 1228.7L650.4 1276.6" fill="none" stroke="#000" stroke-width="1.7" />
<path d="M673.7 1214.5L682.8 1213.2L686.6 1255.9L677.6 1258.4Z" fill="#fff" stroke="#000" stroke-width="1.7" />
<ellipse cx="682.2" cy="1257.4" rx="4" ry="1.8" transform="rotate(-10 682.2 1257.4)" fill="#fff" stroke="#000" stroke-width="1.7" />
<path d="M685.3 1220.9L689.2 1232.6L709.9 1224.8" fill="none" stroke="#000" stroke-width="1.7" />
<path d="M689.2 1232.6L699.6 1281.7L713.8 1294.7" fill="none" stroke="#000" stroke-width="1.7" />
<path d="M697 1227.4L700.9 1263.6L706 1266.2" fill="none" stroke="#000" stroke-width="1.7" />
<path d="M711.2 1226.1L713.8 1266.2" fill="none" stroke="#000" stroke-width="1.7" />
<path d="M706 1266.2L721.6 1271.4L717.7 1294.7L700.9 1286.9Z" fill="#fff" stroke="#000" stroke-width="1.7" />
<path d="M684.1 1258.4L685.3 1302.4" fill="none" stroke="#000" stroke-width="1.7" />
<path d="M650.4 1276.6L655.6 1312.8" fill="none" stroke="#000" stroke-width="1.7" />
<path d="M658.2 1319.2L685.3 1302.4L716.4 1314.1" fill="none" stroke="#000" stroke-width="1.7" />
<path d="M662.6 1299.8L671.4 1294.4L675.3 1296.2L676.3 1304.2L666.5 1310.2Z" fill="none" stroke="#000" stroke-width="1.7" />
<path d="M671.4 1294.4L673.7 1305.5" fill="none" stroke="#000" stroke-width="1.7" />
<path d="M676.3 1308.9L684.1 1304.2L692.3 1307.6L684.1 1312.5Z" fill="none" stroke="#000" stroke-width="1.7" />
<path d="M662.6 1316.6L670.3 1312L678.6 1315.3L670.3 1320.3Z" fill="none" stroke="#000" stroke-width="1.7" />
<path d="M691.8 1315.6L699.6 1310.9L707.8 1314.3L699.6 1319.2Z" fill="none" stroke="#000" stroke-width="1.7" />
<path d="M678.9 1323.9L686.6 1319.2L694.9 1322.6L686.6 1327.5Z" fill="none" stroke="#000" stroke-width="1.7" />
<path d="M794.7 1283.4L796.7 1278.7L802.5 1275L809.3 1274.8L813.5 1280.2L802.5 1299.6Z" fill="#fff" stroke="#000" stroke-width="1.7" />
<path d="M813.5 1280.8L798.3 1308L797.8 1312.7L800.4 1316.9L838.6 1359.3L842.8 1358.8L855.9 1324.2L847 1314.8L821.9 1280.2Z" fill="#fff" stroke="#000" stroke-width="1.7" />
<path d="M814.5 1281.3L827.6 1293.9" fill="none" stroke="#000" stroke-width="1.7" />
<path d="M875.3 1285.5L897.8 1287.1L898.3 1292.8L888.9 1311.7L869 1310.6L883.6 1324.2L855.9 1324.2L842.8 1358.8L859.6 1361.4L855.4 1321.1Z" fill="#fff" stroke="#000" stroke-width="1.7" />
<path d="M840.2 1247.3L865.8 1249.9L897.8 1287.1L875.3 1285.5L855.4 1321.1L847 1314.8L821.9 1280.2Z" fill="#fff" stroke="#000" stroke-width="1.7" />
<path d="M840.2 1247.3L875.3 1285.5" fill="none" stroke="#000" stroke-width="1.7" />
<path d="M841.8 1266.6L861.1 1288.1L837.1 1333.1L817.7 1311.7Z" fill="#fff" stroke="#000" stroke-width="1.7" />
<path d="M839.4 1271.1L858.7 1292.6" fill="none" stroke="#000" stroke-width="1.7" />
<path d="M836.9 1275.6L856.3 1297.1" fill="none" stroke="#000" stroke-width="1.7" />
<path d="M834.5 1280.1L853.9 1301.6" fill="none" stroke="#000" stroke-width="1.7" />
<path d="M832.1 1284.6L851.5 1306.1" fill="none" stroke="#000" stroke-width="1.7" />
<path d="M829.7 1289.1L849.1 1310.6" fill="none" stroke="#000" stroke-width="1.7" />
<path d="M827.3 1293.6L846.7 1315.1" fill="none" stroke="#000" stroke-width="1.7" />
<path d="M824.9 1298.1L844.3 1319.6" fill="none" stroke="#000" stroke-width="1.7" />
<path d="M822.5 1302.6L841.9 1324.1" fill="none" stroke="#000" stroke-width="1.7" />
<path d="M820.1 1307.1L839.5 1328.6" fill="none" stroke="#000" stroke-width="1.7" />
<path d="M827.6 1293.9L847 1314.8" fill="none" stroke="#000" stroke-width="3" />
<path d="M869 1309.6L884.7 1310.6L903.5 1322.1L931.8 1325.8L935.4 1329.4L933.9 1333.1L920.3 1338.9L897.2 1347.2L886.8 1357.7L880.5 1353L875.3 1354.6L872.1 1352L885.7 1341L884.7 1330.5L883.6 1324.2Z" fill="#fff" stroke="#000" stroke-width="1.7" />
<path d="M867.9 1311.7C872.1 1314 885.1 1322.5 893.1 1325.3C901.1 1328.1 912.3 1327.9 916.1 1328.4" fill="none" stroke="#000" stroke-width="1.7" />
<path d="M872.1 1312.7C875.9 1314.5 887.1 1320.9 895.1 1323.2C903.1 1325.5 916.1 1326.2 920.3 1326.8" fill="none" stroke="#000" stroke-width="1.7" />
<path d="M916.1 1328.4C913.5 1329.6 905.5 1333.6 900.4 1335.7C895.3 1337.8 888.2 1340.1 885.7 1341" fill="none" stroke="#000" stroke-width="1.7" />
<path d="M920.3 1326.8C920.3 1327.4 923.6 1328.5 920.3 1330.5C917 1332.5 907.5 1335.2 900.4 1338.9C893.2 1342.6 881.2 1350.2 877.4 1352.5" fill="none" stroke="#000" stroke-width="1.7" />
<path d="M855.9 1322.1L883.6 1324.2L886.2 1331L883.6 1338.9" fill="none" stroke="#000" stroke-width="1.7" />
<path d="M855.9 1326.8L884.2 1330.5" fill="none" stroke="#000" stroke-width="1.7" />
<path d="M853.8 1350.4L856.4 1344.1L863.7 1339.9L872.1 1339.9L874.7 1343.6L872.1 1351.4L880.5 1353L889.9 1364L888.9 1369.2L875.3 1375.5Z" fill="#fff" stroke="#000" stroke-width="1.7" />
<ellipse cx="883.1" cy="1368.2" rx="6.8" ry="3.6" transform="rotate(-25 883.1 1368.2)" fill="#fff" stroke="#000" stroke-width="1.7" />
<ellipse cx="883.1" cy="1368.7" rx="4" ry="2" transform="rotate(-25 883.1 1368.7)" fill="none" stroke="#000" stroke-width="1.7" />
<path d="M879.4 1370.8L886.2 1368.2L909.3 1415.3L902 1419.5Z" fill="#fff" stroke="#000" stroke-width="0.1" stroke="none"/>
<path d="M879.4 1370.8L902 1419.5" fill="none" stroke="#000" stroke-width="1.7" />
<path d="M886.2 1368.2L909.3 1415.3" fill="none" stroke="#000" stroke-width="1.7" />
<path d="M920.7 1442.1C923.1 1439.3 928.9 1436 933.6 1435.6C938.3 1435.2 943.5 1435.4 949.1 1439.5C954.7 1443.6 963.5 1453.7 967.2 1460.2C971 1466.7 971.6 1472.7 971.6 1478.3C971.6 1483.9 969.9 1490.5 967.2 1493.8C964.5 1497.1 959.5 1499.5 955.6 1498.2C951.7 1496.9 947.7 1491.9 944 1486C940.3 1480.1 936.6 1468.4 933.6 1462.8C930.6 1457.2 928.3 1454.1 925.9 1452.4C923.5 1450.7 920.3 1454.1 919.4 1452.4C918.5 1450.7 918.3 1444.9 920.7 1442.1Z" fill="#fff" stroke="#000" stroke-width="1.7" />
<path d="M936.2 1438.2C939.7 1440.6 951.4 1446.6 956.9 1452.4C962.4 1458.2 967.4 1466.6 969.3 1473.1C971.2 1479.6 968.6 1488.2 968.5 1491.2" fill="none" stroke="#000" stroke-width="1.7" />
<path d="M901.3 1424L907.8 1416.2L923.3 1412.3L938.8 1439.5L920.7 1453.7L914.2 1449.8Z" fill="#fff" stroke="#000" stroke-width="1.7" />
<ellipse cx="954.8" cy="1475.2" rx="5.7" ry="10.9" transform="rotate(-10 954.8 1475.2)" fill="none" stroke="#000" stroke-width="1.7" />
<path d="M1006.8 1331.4L996.2 1344.3L986.9 1351.9L997.6 1369.3L1000.8 1360L1013.7 1344.3Z" fill="#fff" stroke="#000" stroke-width="0.1" stroke="none"/>
<path d="M1006.8 1331.4C1005 1333.6 999.5 1340.9 996.2 1344.3C992.9 1347.7 988.5 1350.6 986.9 1351.9" fill="none" stroke="#000" stroke-width="1.7" />
<path d="M1013.3 1345.3C1011.2 1347.8 1003.4 1356 1000.8 1360C998.2 1364 998.1 1367.8 997.6 1369.3" fill="none" stroke="#000" stroke-width="1.7" />
<path d="M1006.8 1331.4L1012.8 1319.4L1015.1 1318.9L1021.1 1322.6L1023 1327.2L1025.7 1330.9L1015.6 1346.2L1012.8 1345.3L1013.3 1340.6Z" fill="#fff" stroke="#000" stroke-width="1.7" />
<path d="M1021.1 1326.8L1013.7 1339.3" fill="none" stroke="#000" stroke-width="3.2" />
<path d="M1006.8 1331.4L1013.3 1340.6" fill="none" stroke="#000" stroke-width="1.7" />
<path d="M976.8 1396.1L995.3 1370.7L999.9 1371.1L1003.6 1376.7L1003.1 1380.4L985.6 1405.3L974 1404.4L969.9 1400.7L959.2 1379.4L976.8 1388.2Z" fill="#fff" stroke="#000" stroke-width="1.7" />
<path d="M976.3 1396.5C977.1 1396.7 980 1397.1 981.4 1397.9C982.8 1398.8 983.9 1400.4 984.6 1401.6C985.3 1402.8 985.4 1404.7 985.6 1405.3" fill="none" stroke="#000" stroke-width="1.7" />
<path d="M959.2 1379.4L978.2 1352.5L986.9 1352.2L992.9 1356.8L994.8 1361.9L976.8 1388.2Z" fill="#fff" stroke="#000" stroke-width="1.7" />
<path d="M960.2 1379.9C961.3 1379.8 964.5 1378.7 966.6 1379C968.8 1379.3 971.6 1380.5 973.1 1381.7C974.6 1382.9 975.6 1384.9 975.9 1385.9C976.2 1386.9 975.8 1387.5 974.9 1387.7C974 1387.9 971.5 1387.4 970.8 1387.3" fill="none" stroke="#000" stroke-width="1.7" />
<path d="M1087.6 1356.8L1085.8 1366.5L1083.9 1379.4L1079.3 1385.9L1098.2 1395.6L1100.1 1364.7Z" fill="#fff" stroke="#000" stroke-width="0.1" stroke="none"/>
<path d="M1087.6 1356.8C1087.3 1358.4 1086.4 1362.7 1085.8 1366.5C1085.2 1370.3 1085 1376.2 1083.9 1379.4C1082.8 1382.6 1080.1 1384.8 1079.3 1385.9" fill="none" stroke="#000" stroke-width="1.7" />
<path d="M1100.1 1364.7L1098.2 1395.6" fill="none" stroke="#000" stroke-width="1.7" />
<path d="M1088.5 1342.5L1098.7 1342L1105.6 1347.6L1105.2 1364.7L1101.5 1366L1100.1 1361L1096.9 1357.7L1087.6 1356.8Z" fill="#fff" stroke="#000" stroke-width="1.7" />
<path d="M1099.2 1343.4L1099.6 1362.8" fill="none" stroke="#000" stroke-width="3.2" />
<path d="M1095 1429.3L1098.2 1396.1L1105.2 1395.6L1109.8 1398.8L1109.8 1406.2L1106.6 1433L1097.8 1435.3L1092.2 1434.4L1072.4 1423.3L1090.4 1419.2Z" fill="#fff" stroke="#000" stroke-width="1.7" />
<path d="M1095 1428.8C1095.8 1428.6 1097.9 1427.4 1099.6 1427.5C1101.3 1427.6 1104 1428.5 1105.2 1429.3C1106.4 1430.1 1106.4 1432 1106.6 1432.5" fill="none" stroke="#000" stroke-width="1.7" />
<path d="M1075.2 1388.7L1079.3 1385.9L1087.6 1385L1093.2 1387.7L1093.6 1392.4L1090.4 1419.2L1090.9 1421.9L1085.8 1423.3L1072.4 1423.3Z" fill="#fff" stroke="#000" stroke-width="1.7" />
<path d="M1072.8 1422.1C1073.6 1421.4 1075.7 1419.2 1077.5 1418.2C1079.3 1417.2 1081.9 1416.3 1083.9 1416.4C1085.9 1416.5 1088.5 1417.7 1089.5 1418.7C1090.5 1419.8 1090.5 1421.9 1089.9 1422.7C1089.3 1423.5 1086.5 1423.2 1085.8 1423.3" fill="none" stroke="#000" stroke-width="1.7" />
<path d="M1219.4 1355.3L1226.2 1374.7L1227.7 1384.1L1247.1 1382.5L1241.9 1374.7L1235.6 1357.4Z" fill="#fff" stroke="#000" stroke-width="0.1" stroke="none"/>
<path d="M1219.4 1355.3C1220.5 1358.5 1224.8 1369.9 1226.2 1374.7C1227.6 1379.5 1227.5 1382.5 1227.7 1384.1" fill="none" stroke="#000" stroke-width="1.7" />
<path d="M1235.6 1357.4C1236.6 1360.3 1240 1370.5 1241.9 1374.7C1243.8 1378.9 1246.2 1381.2 1247.1 1382.5" fill="none" stroke="#000" stroke-width="1.7" />
<path d="M1214.7 1344.3L1217.3 1341.2L1222.5 1339.6L1225.1 1341.2L1231.4 1341.2L1238.2 1355.3L1236.1 1356.9L1222 1356.9L1219.4 1355.3Z" fill="#fff" stroke="#000" stroke-width="1.7" />
<path d="M1225.1 1342.2L1230.4 1353.7" fill="none" stroke="#000" stroke-width="3.2" />
<path d="M1247.6 1387.2L1250.2 1383.6L1259.1 1383.6L1271.2 1412.9L1271.2 1416.6L1261.8 1424.4L1236.6 1422.8L1252.3 1413.4Z" fill="#fff" stroke="#000" stroke-width="1.7" />
<path d="M1247.6 1387.2L1259.7 1417.1L1261.8 1413.9L1271.2 1412.9" fill="none" stroke="#000" stroke-width="1.7" />
<path d="M1224.6 1391.4L1228.3 1384.6L1233.5 1382.5L1239.8 1383.1L1252.3 1413.4L1251.3 1416L1248.7 1416.6L1236.6 1422.8Z" fill="#fff" stroke="#000" stroke-width="1.7" />
<path d="M1236.6 1422.3C1237.5 1420.7 1239.8 1414.7 1241.9 1412.9C1244 1411.2 1247.6 1411.6 1249.2 1411.8C1250.8 1412 1251.5 1413.2 1251.8 1413.9C1252.1 1414.6 1251.8 1415.5 1251.3 1416C1250.8 1416.5 1249.1 1416.5 1248.7 1416.6" fill="none" stroke="#000" stroke-width="1.7" />
<path d="M1287.9 1301.4L1304.7 1318.2L1306.8 1322.3L1325.6 1311.3L1315.1 1306.6L1301 1295.6Z" fill="#fff" stroke="#000" stroke-width="0.1" stroke="none"/>
<path d="M1287.9 1301.4C1290.7 1304.2 1301.6 1314.7 1304.7 1318.2C1307.8 1321.7 1306.5 1321.6 1306.8 1322.3" fill="none" stroke="#000" stroke-width="1.7" />
<path d="M1301 1295.6C1303.3 1297.4 1311 1304 1315.1 1306.6C1319.2 1309.2 1323.8 1310.5 1325.6 1311.3" fill="none" stroke="#000" stroke-width="1.7" />
<path d="M1274.8 1292.5L1279.6 1285.7L1285.3 1282.6L1289.5 1282.6L1301 1292.5L1300.5 1295.6L1287.9 1301.4L1285.8 1300.9Z" fill="#fff" stroke="#000" stroke-width="1.7" />
<path d="M1281.1 1285.7L1292.6 1294.6" fill="none" stroke="#000" stroke-width="3.2" />
<path d="M1292.6 1294.6L1287.9 1301.4" fill="none" stroke="#000" stroke-width="1.7" />
<path d="M1326.1 1311.3L1332.9 1305.6L1359.1 1324.4L1358.6 1335.4L1354.4 1339.1L1331.9 1349.6L1306.8 1330.7L1342.4 1333.3Z" fill="#fff" stroke="#000" stroke-width="1.7" />
<path d="M1326.1 1311.3L1327.2 1315L1350.7 1333.9L1354.9 1327.1L1359.1 1325" fill="none" stroke="#000" stroke-width="1.7" />
<path d="M1306.8 1330.7L1307.8 1320.2L1312.5 1315L1317.8 1315L1342.4 1333.3L1341.8 1338.6L1340.3 1339.6L1331.9 1349.6Z" fill="#fff" stroke="#000" stroke-width="1.7" />
<path d="M1331.9 1349C1332.1 1347.5 1332 1342.4 1332.9 1340.1C1333.8 1337.8 1335.6 1335.9 1337.1 1334.9C1338.6 1333.9 1341 1334.1 1341.8 1333.9" fill="none" stroke="#000" stroke-width="1.7" />
<ellipse cx="1517.9" cy="978" rx="4" ry="10" transform="rotate(3 1517.9 978)" fill="#fff" stroke="#000" stroke-width="1.7" />
<path d="M1521.6 969.3L1575.1 959.3" fill="none" stroke="#000" stroke-width="1.7" />
<path d="M1522.5 974.8L1572.3 971.2" fill="none" stroke="#000" stroke-width="1.7" />
<path d="M1522.5 982.1L1566.8 992.7" fill="none" stroke="#000" stroke-width="1.7" />
<path d="M1519.3 987.2L1576.9 1018.7" fill="none" stroke="#000" stroke-width="1.7" />
<path d="M1627.2 962L1667.4 960.2L1667.4 980.3L1625.4 982.6Z" fill="#fff" stroke="#000" stroke-width="1.7" />
<ellipse cx="1667.6" cy="970.2" rx="2.8" ry="10" transform="rotate(0 1667.6 970.2)" fill="#fff" stroke="#000" stroke-width="1.7" />
<path d="M1645.5 999.5L1667.4 994L1669.3 1013.2L1652.8 1013.2Z" fill="#fff" stroke="#000" stroke-width="1.7" />
<ellipse cx="1669" cy="1003.6" rx="3" ry="10" transform="rotate(0 1669 1003.6)" fill="#fff" stroke="#000" stroke-width="1.7" />
<ellipse cx="1672.9" cy="987.4" rx="3.2" ry="10" transform="rotate(0 1672.9 987.4)" fill="#fff" stroke="#000" stroke-width="1.7" />
<path d="M1618 983L1662 978.9L1662.4 996.3L1621.7 1002.3Z" fill="#fff" stroke="#000" stroke-width="1.7" />
<ellipse cx="1662.6" cy="987.6" rx="2.8" ry="9" transform="rotate(0 1662.6 987.6)" fill="#fff" stroke="#000" stroke-width="1.7" />
<path d="M1619.9 990.8L1660.1 988.1" fill="none" stroke="#000" stroke-width="1.7" />
<path d="M1625.4 972.5L1663.8 970.7" fill="none" stroke="#000" stroke-width="1.7" />
<path d="M1576.9 954.7L1582.4 954.5L1583.3 957L1626.7 955.6L1628.1 961.6L1624.9 967.5L1620.8 979.4L1616.7 985.8L1618 994L1621.7 1003.2L1625.4 1004.1L1625.4 1005.9L1612.6 1003.2L1611.6 998.1L1603.9 998.1L1603 1001.3L1580.1 1003.2L1578.3 1008.7L1580.1 1026.5L1577.8 1021.5L1566.8 992.7L1570.5 981.2Z" fill="#fff" stroke="#000" stroke-width="1.7" />
<path d="M1566.8 992.7L1616.7 989.5" fill="none" stroke="#000" stroke-width="1.7" />
<path d="M1578.3 1008.7L1580.1 1003.2L1603 1001.3L1603.9 998.1L1611.6 998.1L1612.6 1003.2L1610.7 1007.7L1588.3 1009.6L1585.6 1012.8L1591.5 1027L1580.1 1026.5Z" fill="#fff" stroke="#000" stroke-width="1.7" />
<path d="M1585.6 1009.6L1588.3 1006.4L1609.8 1004.3L1610.7 1002.3" fill="none" stroke="#000" stroke-width="1.7" />
<path d="M1580.1 1009.1L1585.6 1009.6" fill="none" stroke="#000" stroke-width="1.7" />
<path d="M1587 1011.9L1644.6 1009.1L1646.4 999.5L1638.2 1000.4L1637.3 1004.1L1626.3 1004.5" fill="none" stroke="#000" stroke-width="1.7" />
<path d="M1587 1011.9L1644.6 1009.1L1650.1 1000.4L1652.8 1010.5L1651 1016L1645.5 1019.2L1630.4 1021L1630.4 1023.3L1592.9 1023.3L1591.5 1022.4Z" fill="#fff" stroke="#000" stroke-width="1.7" />
<path d="M1644.6 1009.1L1647.3 1019.2" fill="none" stroke="#000" stroke-width="1.7" />
<path d="M1591.5 1022.4L1629.9 1021" fill="none" stroke="#000" stroke-width="1.7" />
<path d="M1646.4 1009.6L1651 1007.7" fill="none" stroke="#000" stroke-width="1.7" />
<path d="M1699.2 1365.6C1704.7 1364.6 1720.7 1362.1 1732.4 1359.4C1744.1 1356.7 1759.1 1354.3 1769.4 1349.6C1779.7 1344.9 1787.4 1338.7 1794 1331.1C1800.6 1323.5 1804.3 1314.7 1808.8 1304C1813.3 1293.3 1817 1278.1 1821.1 1267C1825.2 1255.9 1827.7 1245.7 1833.4 1237.5C1839.2 1229.3 1845.8 1223.5 1855.6 1217.8C1865.4 1212 1880.2 1208.3 1892.5 1203C1904.8 1197.7 1917.9 1191.8 1929.5 1185.8C1941.1 1179.8 1956.6 1170 1962 1166.8" fill="none" stroke="#000" stroke-width="15.2" stroke-linecap="butt" />
<path d="M1699.2 1365.6C1704.7 1364.6 1720.7 1362.1 1732.4 1359.4C1744.1 1356.7 1759.1 1354.3 1769.4 1349.6C1779.7 1344.9 1787.4 1338.7 1794 1331.1C1800.6 1323.5 1804.3 1314.7 1808.8 1304C1813.3 1293.3 1817 1278.1 1821.1 1267C1825.2 1255.9 1827.7 1245.7 1833.4 1237.5C1839.2 1229.3 1845.8 1223.5 1855.6 1217.8C1865.4 1212 1880.2 1208.3 1892.5 1203C1904.8 1197.7 1917.9 1191.8 1929.5 1185.8C1941.1 1179.8 1956.6 1170 1962 1166.8" fill="none" stroke="#fff" stroke-width="11.8" stroke-linecap="butt"/>
<ellipse cx="1699.2" cy="1365.6" rx="3" ry="7" transform="rotate(5 1699.2 1365.6)" fill="#fff" stroke="#000" stroke-width="1.7" />
<ellipse cx="1962" cy="1166.8" rx="3" ry="7" transform="rotate(-25 1962 1166.8)" fill="#fff" stroke="#000" stroke-width="1.7" />
<path d="M1655.8 1357.6C1659.6 1357.6 1671.8 1356.8 1678.5 1357.6C1685.2 1358.4 1693.3 1361.8 1696.3 1362.6" fill="none" stroke="#000" stroke-width="1.7" />
<path d="M1663 1372C1665.6 1371.5 1673 1369.4 1678.5 1368.7C1684 1368 1693.3 1367.8 1696.3 1367.6" fill="none" stroke="#000" stroke-width="1.7" />
<path d="M1962.7 1163.1L1980.8 1152.1L2001.9 1141.9" fill="none" stroke="#000" stroke-width="1.3" />
<path d="M1964.3 1165.1L1982.3 1154.5L2001.9 1143.9" fill="none" stroke="#000" stroke-width="1.3" />
<path d="M1965.9 1166.6L1983.9 1160L2001.9 1155.7" fill="none" stroke="#000" stroke-width="1.3" />
<path d="M1967.4 1168.2L1985.5 1161.9L2001.9 1157.6" fill="none" stroke="#000" stroke-width="1.3" />
<path d="M1583.2 1399.7L1605.9 1380.3L1609.3 1393.6L1586 1413Z" fill="#fff" stroke="#000" stroke-width="1.7" />
<path d="M1586 1413L1591 1414.7L1610.9 1397.5" fill="none" stroke="#000" stroke-width="1.7" />
<path d="M1588.2 1419.7L1610.9 1400.8L1616.5 1411.9L1591.5 1433.5Z" fill="#fff" stroke="#000" stroke-width="1.7" />
<path d="M1591.5 1433.5L1601 1436.3L1617.6 1421.9" fill="none" stroke="#000" stroke-width="1.7" />
<path d="M1602.1 1428.5L1605.4 1423L1624.2 1404.1L1644.7 1393.1L1665.2 1399.2L1666.4 1407.5L1663.6 1411.3L1656.4 1410.8L1619.2 1443.5L1606.5 1440.7L1602.1 1438.5Z" fill="#fff" stroke="#000" stroke-width="1.7" />
<path d="M1624.2 1404.1L1625.9 1414.1L1630.9 1417.4L1644.2 1405.2L1644.7 1393.1" fill="none" stroke="#000" stroke-width="1.7" />
<path d="M1644.2 1405.2L1663.6 1411.3" fill="none" stroke="#000" stroke-width="1.7" />
<path d="M1606.5 1440.7L1608.7 1435.2L1644.2 1406.4" fill="none" stroke="#000" stroke-width="1.7" />
<path d="M1613.2 1442.4L1650.8 1409.7" fill="none" stroke="#000" stroke-width="1.7" />
<path d="M1608.7 1435.2C1608.5 1433.9 1607.2 1429.4 1607.6 1427.4C1608 1425.4 1609.2 1423.7 1610.9 1423C1612.6 1422.3 1616.5 1423 1617.6 1423" fill="none" stroke="#000" stroke-width="1.7" />
<path d="M1609.8 1425.2L1610.9 1429.1L1617.6 1423" fill="none" stroke="#000" stroke-width="1.7" />
<path d="M1628.7 1405.2L1630.9 1407.5L1634.2 1403" fill="none" stroke="#000" stroke-width="2.4" />
<path d="M1645.3 1399.2L1664.7 1404.1" fill="none" stroke="#000" stroke-width="1.7" />
<path d="M1603.7 1369.8L1636.4 1337.1L1649.2 1386.4L1616.5 1410.8Z" fill="#fff" stroke="#000" stroke-width="1.7" />
<path d="M1635.9 1335.4L1640.3 1335.4L1661.9 1341L1674.7 1390.8L1670.8 1395.3L1650.8 1384.2L1649.2 1387Z" fill="#fff" stroke="#000" stroke-width="1.7" />
<path d="M1657.5 1347.6L1645.3 1345.4L1649.2 1358.7L1661.4 1362" fill="none" stroke="#000" stroke-width="1.7" />
<path d="M1650.8 1349.8L1656.4 1350.9L1658.6 1356.5" fill="none" stroke="#000" stroke-width="1.7" />
<path d="M1660.3 1368.7L1650.8 1367L1654.7 1379.8L1665.2 1382.5L1664.1 1372" fill="none" stroke="#000" stroke-width="1.7" />
<path d="M1656.4 1372L1661.4 1373.1L1663 1378.6" fill="none" stroke="#000" stroke-width="1.7" />
<path d="M1650.8 1384.2L1670.8 1390.8L1674.7 1390.8" fill="none" stroke="#000" stroke-width="1.7" />
<ellipse cx="1649.2" cy="1388.1" rx="2.5" ry="2.5" transform="rotate(0 1649.2 1388.1)" fill="#000" stroke="#000" stroke-width="1.7" />
<ellipse cx="1670.8" cy="1391.9" rx="2.6" ry="3.2" transform="rotate(0 1670.8 1391.9)" fill="none" stroke="#000" stroke-width="1.7" />
<path d="M1665.2 1354.3L1665.8 1362" fill="none" stroke="#000" stroke-width="1.7" />
<path d="M1668 1367.6L1668.6 1374.2" fill="none" stroke="#000" stroke-width="1.7" />
<path d="M2048.2 1113.7L2075.6 1101.2L2084.3 1106.7L2083.5 1120.8L2054.5 1134.1L2053.7 1117.6Z" fill="#fff" stroke="#000" stroke-width="1.7" />
<path d="M2048.2 1113.7L2054.5 1117.6L2084.3 1106.7" fill="none" stroke="#000" stroke-width="1.7" />
<path d="M2054.5 1117.6L2054.5 1134.1" fill="none" stroke="#000" stroke-width="1.7" />
<path d="M2053.7 1131L2077.2 1124.7L2081.9 1127.8L2081.5 1141.9L2052.9 1152.5Z" fill="#fff" stroke="#000" stroke-width="1.7" />
<path d="M2054.5 1138.4L2081.9 1127.8" fill="none" stroke="#000" stroke-width="1.7" />
<path d="M2004.3 1106.7L2010.9 1104.3L2017.2 1107.4L2062.3 1088.2L2075.6 1096.5L2074.8 1101.2L2071.7 1109.8L2068.6 1112.1L2065.4 1105.9L2045.8 1114.5L2045.8 1120.8L2021.5 1127L2004.3 1115.3Z" fill="#fff" stroke="#000" stroke-width="1.7" />
<path d="M2017.2 1107.4L2025.5 1114.5L2075.6 1096.5" fill="none" stroke="#000" stroke-width="1.7" />
<path d="M2004.3 1106.7L2021.5 1117.6L2021.5 1127" fill="none" stroke="#000" stroke-width="1.7" />
<path d="M2021.5 1117.6L2041.9 1109L2045.8 1114.5" fill="none" stroke="#000" stroke-width="1.7" />
<path d="M2010.9 1104.3L2025.5 1114.5L2025.5 1116.8" fill="none" stroke="#000" stroke-width="1.7" />
<path d="M2061.5 1107.4L2065.4 1105.9L2066.2 1110.6" fill="none" stroke="#000" stroke-width="1.7" />
<path d="M2037.2 1120L2040.3 1118.4L2041.1 1122.3" fill="none" stroke="#000" stroke-width="2.4" />
<path d="M1996.4 1123.5L2017.2 1134.9L2052.9 1120L2052.1 1163.1L2012.9 1178.4L2013.7 1134.9Z" fill="#fff" stroke="#000" stroke-width="1.7" />
<path d="M2017.2 1134.9L2013.7 1134.9" fill="none" stroke="#000" stroke-width="1.7" />
<path d="M1999.6 1119.2L2021.5 1127" fill="none" stroke="#000" stroke-width="1.7" />
<path d="M1992.5 1117.6L1998.8 1117.2L2000 1119.2L1996.4 1123.9L2009.8 1133.3L2010.6 1130.2L2015.3 1129L2017.2 1134.9L2013.7 1141.1L2012.9 1181.9L2008.2 1184.7L1987.4 1171.3L1991 1123.9Z" fill="#fff" stroke="#000" stroke-width="1.7" />
<path d="M2009.8 1133.3L2008.2 1184.7" fill="none" stroke="#000" stroke-width="1.7" />
<path d="M1994.9 1118.4L1996.1 1122.3L1998.4 1119.2" fill="none" stroke="#000" stroke-width="1.7" />
<path d="M2011.7 1131L2012.9 1134.1" fill="none" stroke="#000" stroke-width="1.7" />
<path d="M1996.8 1130.2L2007.4 1136.4L2006.6 1150.6L1997.2 1145.9Z" fill="none" stroke="#000" stroke-width="1.7" />
<path d="M1994.9 1152.9L1994.1 1164.7L2004.7 1171.7L2005.1 1155.3" fill="none" stroke="#000" stroke-width="1.7" />
<path d="M1994.9 1152.9L1999.6 1151.7L2005.1 1155.3" fill="none" stroke="#000" stroke-width="1.7" />
<path d="M1897.4 1225.2L1897.4 1296.6" fill="none" stroke="#000" stroke-width="1.7" />
<path d="M1735.1 333.7C1740.2 338.6 1753 352.5 1765.6 363.4C1778.3 374.2 1795.8 388.7 1811.1 398.6C1826.4 408.5 1841.9 416.6 1857.3 422.9C1872.6 429.2 1888.5 432.8 1903.3 436.2C1918.1 439.6 1938.9 442.2 1946.1 443.4" fill="none" stroke="#000" stroke-width="2" stroke-dasharray="6.5 3.2" stroke-linecap="butt"/>
<path d="M1750.5 317.9C1755.4 322.7 1767.8 336.3 1780 346.6C1792.1 357 1808.8 370.9 1823.1 380.2C1837.4 389.5 1851.4 396.7 1865.5 402.5C1879.7 408.3 1894.2 411.6 1908.3 414.8C1922.3 418 1942.8 420.6 1949.7 421.8" fill="none" stroke="#000" stroke-width="2" stroke-dasharray="6.5 3.2" stroke-linecap="butt"/>
<path d="M1741.2 321.3C1734.6 320.7 1713.5 319.6 1701.7 317.6C1689.9 315.5 1679.7 312 1670.5 309C1661.2 306 1653.7 302.2 1646.3 299.5C1638.9 296.8 1629.4 293.9 1626.1 292.8" fill="none" stroke="#000" stroke-width="2" stroke-dasharray="6.5 3.2" stroke-linecap="butt"/>
<path d="M1740 333.3C1733.3 332.6 1711.9 331.6 1699.7 329.4C1687.5 327.3 1676.3 323.5 1666.7 320.4C1657.2 317.3 1649.5 313.4 1642.1 310.7C1634.7 308 1625.6 305.3 1622.3 304.2" fill="none" stroke="#000" stroke-width="2" stroke-dasharray="6.5 3.2" stroke-linecap="butt"/>
<path d="M1749.4 314.8C1747.4 310.5 1740.2 297.9 1737.4 288.9C1734.6 279.9 1733.4 265.5 1732.6 260.9" fill="none" stroke="#000" stroke-width="2" stroke-dasharray="6.5 3.2" stroke-linecap="butt"/>
<path d="M1738.4 319.8C1736.4 315.2 1728.9 302 1726 292.5C1723 283 1721.7 267.9 1720.8 262.9" fill="none" stroke="#000" stroke-width="2" stroke-dasharray="6.5 3.2" stroke-linecap="butt"/>
<path d="M1710.7 228.7C1710.9 231.3 1711.1 240.1 1711.8 244.2C1712.5 248.3 1714.5 251.6 1715.1 253.1" fill="none" stroke="#000" stroke-width="2" stroke-dasharray="4.5 2.5" stroke-linecap="butt"/>
<path d="M1717.3 228.7C1717.5 231.3 1717.8 239.8 1718.4 244.2C1719 248.6 1720.3 253.5 1720.7 255.3" fill="none" stroke="#000" stroke-width="2" stroke-dasharray="4.5 2.5" stroke-linecap="butt"/>
<path d="M1726.2 227.6C1726.2 230.4 1726.4 239.6 1726.2 244.2C1726 248.8 1725.3 253.5 1725.1 255.3" fill="none" stroke="#000" stroke-width="2" stroke-dasharray="4.5 2.5" stroke-linecap="butt"/>
<path d="M1736.2 224.2C1736 227.2 1736.2 236.4 1735.1 242C1734 247.6 1730.4 254.9 1729.5 257.5" fill="none" stroke="#000" stroke-width="2" stroke-dasharray="4.5 2.5" stroke-linecap="butt"/>
<path d="M1686.3 176.6L1724 158.8L1739.5 164.4L1740.6 184.3L1743.9 185.4L1743.9 210.9L1721.8 219.8L1704 232L1680.8 220.9L1681.9 197.6L1686.3 195.4Z" fill="#fff" stroke="#000" stroke-width="2" />
<path d="M1686.3 176.6L1702.9 183.2L1739.5 164.4" fill="none" stroke="#000" stroke-width="2" />
<path d="M1702.9 183.2L1702.9 204.3L1681.9 197.6" fill="none" stroke="#000" stroke-width="2" />
<path d="M1702.9 204.3L1743.9 185.4" fill="none" stroke="#000" stroke-width="2" />
<path d="M1702.9 204.3L1704 232" fill="none" stroke="#000" stroke-width="2" />
<ellipse cx="1690.7" cy="175.5" rx="2.2" ry="1.6" transform="rotate(0 1690.7 175.5)" fill="none" stroke="#000" stroke-width="2" />
<ellipse cx="1700.7" cy="180.3" rx="2.2" ry="1.6" transform="rotate(0 1700.7 180.3)" fill="none" stroke="#000" stroke-width="2" />
<path d="M1687.4 178.8L1687.4 196.5" fill="none" stroke="#000" stroke-width="2" />
<path d="M1696.3 182.6L1696.3 198.7" fill="none" stroke="#000" stroke-width="2" />
<path d="M1691.8 181L1691.8 197.6" fill="none" stroke="#000" stroke-width="2" />
<ellipse cx="1700" cy="171" rx="2.2" ry="1.6" transform="rotate(0 1700 171)" fill="none" stroke="#000" stroke-width="2" />
<ellipse cx="1710" cy="175.9" rx="2.2" ry="1.6" transform="rotate(0 1710 175.9)" fill="none" stroke="#000" stroke-width="2" />
<path d="M1696.7 174.4L1696.7 192.1" fill="none" stroke="#000" stroke-width="2" />
<path d="M1705.6 178.1L1705.6 194.3" fill="none" stroke="#000" stroke-width="2" />
<path d="M1701.2 176.6L1701.2 193.2" fill="none" stroke="#000" stroke-width="2" />
<ellipse cx="1709.4" cy="166.6" rx="2.2" ry="1.6" transform="rotate(0 1709.4 166.6)" fill="none" stroke="#000" stroke-width="2" />
<ellipse cx="1719.3" cy="171.5" rx="2.2" ry="1.6" transform="rotate(0 1719.3 171.5)" fill="none" stroke="#000" stroke-width="2" />
<path d="M1706 169.9L1706 187.7" fill="none" stroke="#000" stroke-width="2" />
<path d="M1714.9 173.7L1714.9 189.9" fill="none" stroke="#000" stroke-width="2" />
<path d="M1710.5 172.1L1710.5 188.8" fill="none" stroke="#000" stroke-width="2" />
<ellipse cx="1718.7" cy="162.2" rx="2.2" ry="1.6" transform="rotate(0 1718.7 162.2)" fill="none" stroke="#000" stroke-width="2" />
<ellipse cx="1728.6" cy="167" rx="2.2" ry="1.6" transform="rotate(0 1728.6 167)" fill="none" stroke="#000" stroke-width="2" />
<path d="M1715.3 165.5L1715.3 183.2" fill="none" stroke="#000" stroke-width="2" />
<path d="M1724.2 169.3L1724.2 185.4" fill="none" stroke="#000" stroke-width="2" />
<path d="M1719.8 167.7L1719.8 184.3" fill="none" stroke="#000" stroke-width="2" />
<path d="M1719.6 184.3L1719.6 217.6" fill="none" stroke="#000" stroke-width="2.6" />
<path d="M1728.4 182.1L1728.4 215.4" fill="none" stroke="#000" stroke-width="2" />
<path d="M1724 183.2L1724 216.5" fill="none" stroke="#000" stroke-width="2" />
<path d="M1717.3 219.8L1743.9 210.9" fill="none" stroke="#000" stroke-width="2.2" />
<path d="M1732.9 168.8L1732.9 213.2" fill="none" stroke="#000" stroke-width="2" />
<path d="M1737.3 166.6L1737.3 212" fill="none" stroke="#000" stroke-width="2" />
<path d="M1681.9 197.6L1686.3 195.4" fill="none" stroke="#000" stroke-width="2" />
<path d="M1693 201L1693 225.3" fill="none" stroke="#000" stroke-width="2" />
<path d="M1553.3 266.4L1562.2 244.2L1586.6 233.1L1591 237.5L1615.4 255.3L1633.1 279.7L1628.7 293L1613.2 304L1593.2 301.8Z" fill="#fff" stroke="#000" stroke-width="2" stroke-dasharray="4.5 2.5" stroke-linecap="butt"/>
<path d="M1562.2 244.2L1568.8 255.3L1553.3 266.4" fill="none" stroke="#000" stroke-width="2" stroke-dasharray="4.5 2.5" stroke-linecap="butt"/>
<path d="M1568.8 255.3L1606.5 277.4L1613.2 304" fill="none" stroke="#000" stroke-width="2" stroke-dasharray="4.5 2.5" stroke-linecap="butt"/>
<path d="M1558.8 250.8L1566.6 246.4L1568.8 253.1L1561.1 257.5Z" fill="none" stroke="#000" stroke-width="2" />
<path d="M1571 245.3L1578.8 241.5L1581 248.2L1573.3 251.9Z" fill="none" stroke="#000" stroke-width="2" />
<path d="M1566.6 273L1573.3 263L1584.3 267.5" fill="none" stroke="#000" stroke-width="2" />
<path d="M1599.9 286.3L1610.9 290.7L1604.3 297.4L1615.4 299.6" fill="none" stroke="#000" stroke-width="2" />
<ellipse cx="1628.7" cy="284.1" rx="4" ry="8" transform="rotate(-10 1628.7 284.1)" fill="none" stroke="#000" stroke-width="2" />
<path d="M1619.8 266.4L1633.1 281.9" fill="none" stroke="#000" stroke-width="2" />
<path d="M1622 298.5L1633.1 298.5" fill="none" stroke="#000" stroke-width="2" />
<path d="M1637.5 305.1L1646.4 308.5L1644.2 304" fill="none" stroke="#000" stroke-width="2" />
<path d="M2041.9 389.6L2227.1 484.1" fill="none" stroke="#000" stroke-width="2" stroke-dasharray="6.5 3.2" stroke-linecap="butt"/>
<path d="M2026.1 401.4L2207.4 496" fill="none" stroke="#000" stroke-width="2" stroke-dasharray="6.5 3.2" stroke-linecap="butt"/>
<path d="M2036 411.2L2195.6 494" fill="none" stroke="#000" stroke-width="2" stroke-dasharray="6.5 3.2" stroke-linecap="butt"/>
<path d="M2049.8 419.1L2191.6 492" fill="none" stroke="#000" stroke-width="2" stroke-dasharray="6.5 3.2" stroke-linecap="butt"/>
<path d="M2004.4 446.7L2156.2 513.7" fill="none" stroke="#000" stroke-width="2" stroke-dasharray="6.5 3.2" stroke-linecap="butt"/>
<path d="M2036 452.6L2154.2 517.6" fill="none" stroke="#000" stroke-width="2" stroke-dasharray="6.5 3.2" stroke-linecap="butt"/>
<path d="M2037.9 535.4L2173.9 592.5" fill="none" stroke="#000" stroke-width="2" stroke-dasharray="6.5 3.2" stroke-linecap="butt"/>
<path d="M2018.2 397.4C2019.8 396.4 2024.1 392.8 2028.1 391.5C2032 390.2 2039.6 389.9 2041.9 389.6" fill="none" stroke="#000" stroke-width="2" stroke-dasharray="6.5 3.2" stroke-linecap="butt"/>
<path d="M2227.1 484.1C2228.4 485.1 2233.4 487 2235 490C2236.6 493 2236.6 499.9 2236.9 501.9" fill="none" stroke="#000" stroke-width="2" stroke-dasharray="6.5 3.2" stroke-linecap="butt"/>
<path d="M2236.9 501.9L2236.9 620.1" fill="none" stroke="#000" stroke-width="2" stroke-dasharray="6.5 3.2" stroke-linecap="butt"/>
<path d="M2236.9 620.1C2236.6 621.1 2237.3 624.4 2235 626C2232.7 627.6 2225.2 629.3 2223.2 630" fill="none" stroke="#000" stroke-width="2" stroke-dasharray="6.5 3.2" stroke-linecap="butt"/>
<path d="M2168 515.7L2207.4 501.9L2231 486.1" fill="none" stroke="#000" stroke-width="2" stroke-dasharray="6.5 3.2" stroke-linecap="butt"/>
<path d="M1970.9 454.6L1970.9 501.9L2037.9 535.4" fill="none" stroke="#000" stroke-width="2" stroke-dasharray="6.5 3.2" stroke-linecap="butt"/>
<path d="M2013.3 448.7L2013.3 527.5" fill="none" stroke="#000" stroke-width="2" stroke-dasharray="4.5 2.5" stroke-linecap="butt"/>
<path d="M2015.7 448.7L2015.7 527.5" fill="none" stroke="#000" stroke-width="2" stroke-dasharray="4.5 2.5" stroke-linecap="butt"/>
<path d="M2027.1 448.7L2027.1 527.5" fill="none" stroke="#000" stroke-width="2" stroke-dasharray="4.5 2.5" stroke-linecap="butt"/>
<path d="M2030 448.7L2030 527.5" fill="none" stroke="#000" stroke-width="2" stroke-dasharray="4.5 2.5" stroke-linecap="butt"/>
<path d="M2013.3 446.7L2030 446.7" fill="none" stroke="#000" stroke-width="2" />
<path d="M2013.3 454.6L2030 454.6" fill="none" stroke="#000" stroke-width="2" />
<path d="M2027.1 513.7C2027.3 514.4 2026.3 516 2028.1 517.6C2029.9 519.2 2035.9 521.2 2037.9 523.5C2039.9 525.8 2039.9 529.4 2039.9 531.4C2039.9 533.4 2039.6 535.1 2037.9 535.4C2036.2 535.7 2031.3 533.7 2030 533.4" fill="none" stroke="#000" stroke-width="2" />
<path d="M2169 543.3L2169 618.1" fill="none" stroke="#000" stroke-width="2" stroke-dasharray="6.5 3.2" stroke-linecap="butt"/>
<path d="M2173.9 543.3L2173.9 618.1" fill="none" stroke="#000" stroke-width="2" stroke-dasharray="6.5 3.2" stroke-linecap="butt"/>
<path d="M2209.4 505.8L2209.4 631.9" fill="none" stroke="#000" stroke-width="2" stroke-dasharray="6.5 3.2" stroke-linecap="butt"/>
<path d="M2212.3 505.8L2212.3 631.9" fill="none" stroke="#000" stroke-width="2" stroke-dasharray="6.5 3.2" stroke-linecap="butt"/>
<path d="M2215.3 505.8L2215.3 631.9" fill="none" stroke="#000" stroke-width="2" stroke-dasharray="6.5 3.2" stroke-linecap="butt"/>
<path d="M2173.9 618.1L2207.4 633.9L2235 624" fill="none" stroke="#000" stroke-width="2" stroke-dasharray="6.5 3.2" stroke-linecap="butt"/>
<path d="M2154.2 511.7C2155.2 513.7 2158.5 519.9 2160.1 523.5C2161.7 527.1 2163.3 531.8 2164 533.4" fill="none" stroke="#000" stroke-width="2" stroke-dasharray="4.5 2.5" stroke-linecap="butt"/>
<path d="M2179.8 515.7C2180.1 517 2182.5 520.5 2181.8 523.5C2181.2 526.5 2176.9 531.8 2175.9 533.4" fill="none" stroke="#000" stroke-width="2" />
<path d="M2166 541.3L2170.9 547.2L2175.9 541.3" fill="none" stroke="#000" stroke-width="2" />
<path d="M2167 549.2L2174.9 549.2" fill="none" stroke="#000" stroke-width="2" />
<path d="M1982.8 511.7C1983.5 515 1984.1 525.1 1986.7 531.4C1989.3 537.6 1993.6 544.3 1998.5 549.2C2003.4 554.1 2013.3 559 2016.3 561" fill="none" stroke="#000" stroke-width="2" stroke-dasharray="14 5"/>
<ellipse cx="2239.3" cy="599.4" rx="2.5" ry="5" transform="rotate(0 2239.3 599.4)" fill="none" stroke="#000" stroke-width="2" />
<path d="M1941.4 423.1C1940.2 426.1 1935.2 434.9 1934.5 440.8C1933.8 446.7 1934.9 453.2 1937.4 458.5C1939.9 463.8 1947.3 470 1949.3 472.3" fill="none" stroke="#000" stroke-width="1.6" stroke-dasharray="9 4"/>
<path d="M1957.1 430.9C1955.9 433.9 1950.8 442.8 1950.2 448.7C1949.6 454.6 1950.7 461.1 1953.2 466.4C1955.7 471.6 1963 477.9 1965 480.2" fill="none" stroke="#000" stroke-width="1.6" stroke-dasharray="9 4"/>
<path d="M1970.9 425C1969.8 428 1964.7 436.9 1964 442.8C1963.3 448.7 1964.5 455.2 1967 460.5C1969.5 465.8 1976.8 472 1978.8 474.3" fill="none" stroke="#000" stroke-width="1.6" stroke-dasharray="9 4"/>
<path d="M1939.4 425C1941.4 424.4 1946.9 421.4 1951.2 421.1C1955.5 420.8 1962.7 422.8 1965 423.1" fill="none" stroke="#000" stroke-width="2" />
<path d="M1970.9 423.1C1973.2 424.1 1981.1 426.7 1984.7 429C1988.3 431.3 1991.3 435.5 1992.6 436.8" fill="none" stroke="#000" stroke-width="2" />
<path d="M1968 452.6L1968 482.2" fill="none" stroke="#000" stroke-width="2" stroke-dasharray="6.5 3.2" stroke-linecap="butt"/>
<path d="M1967 454.6C1968.3 452.3 1971.3 444.1 1974.9 440.8C1978.5 437.5 1986.4 435.9 1988.7 434.9" fill="none" stroke="#000" stroke-width="2" />
<path d="M1974.9 456.6C1976.2 455 1980.2 448.7 1982.8 446.7C1985.4 444.7 1989.3 445 1990.6 444.7" fill="none" stroke="#000" stroke-width="1.8" />
<ellipse cx="2002.5" cy="425" rx="4.2" ry="7" transform="rotate(25 2002.5 425)" fill="#fff" stroke="#000" stroke-width="1.8" />
<ellipse cx="2008" cy="420.7" rx="4.2" ry="7" transform="rotate(25 2008 420.7)" fill="#fff" stroke="#000" stroke-width="1.8" />
<ellipse cx="2013.5" cy="416.4" rx="4.2" ry="7" transform="rotate(25 2013.5 416.4)" fill="#fff" stroke="#000" stroke-width="1.8" />
<ellipse cx="2019" cy="412" rx="4.2" ry="7" transform="rotate(25 2019 412)" fill="#fff" stroke="#000" stroke-width="1.8" />
<ellipse cx="2024.5" cy="407.7" rx="4.2" ry="7" transform="rotate(25 2024.5 407.7)" fill="#fff" stroke="#000" stroke-width="1.8" />
<path d="M2012.3 399.4L2041.9 413.2" fill="none" stroke="#000" stroke-width="2" />
<path d="M2010.3 405.3L2037.9 419.1" fill="none" stroke="#000" stroke-width="2" />
<path d="M2051.7 421.1C2053.7 421.8 2060.2 423 2063.5 425C2066.8 427 2070.1 431.6 2071.4 432.9" fill="none" stroke="#000" stroke-width="2" />
<path d="M2042.8 544L2059.8 539L2068.8 555L2067.8 571L2051.8 575L2050.8 552Z" fill="#fff" stroke="#000" stroke-width="2" />
<path d="M2050.8 539C2053.1 541 2061.8 545.5 2064.8 551C2067.8 556.5 2068.1 568.5 2068.8 572" fill="none" stroke="#000" stroke-width="2.2" />
<path d="M2059.8 540C2061.8 541.8 2069.5 547.3 2071.8 551C2074.1 554.7 2073.5 560.2 2073.8 562" fill="none" stroke="#000" stroke-width="1.8" />
<path d="M2050.8 552L2067.8 555" fill="none" stroke="#000" stroke-width="2" />
<path d="M2059.8 539L2060.8 553" fill="none" stroke="#000" stroke-width="2" />
<path d="M2017.8 569L2025.8 556L2043.8 544L2050.8 551L2053.8 570L2039.3 584.5L2029.8 583.6L2022.8 579Z" fill="#fff" stroke="#000" stroke-width="2" />
<path d="M2043.8 544L2037.8 561L2053.8 570" fill="none" stroke="#000" stroke-width="1.8" />
<path d="M2025.8 556L2033.8 564L2037.8 571" fill="none" stroke="#000" stroke-width="2" />
<path d="M2037.8 561L2033.8 564" fill="none" stroke="#000" stroke-width="2" />
<path d="M2037.8 571L2039.3 584.5" fill="none" stroke="#000" stroke-width="1.8" />
<path d="M2040.8 571L2053.8 560" fill="none" stroke="#000" stroke-width="2" />
<path d="M2029.8 583.6L2041.8 573L2053.8 570" fill="none" stroke="#000" stroke-width="1.8" />
<path d="M2018.8 570C2019.3 569 2020.5 564.8 2021.8 564C2023.1 563.2 2025.5 564 2026.8 565C2028.1 566 2029.3 569.2 2029.8 570" fill="none" stroke="#000" stroke-width="2.2" />
<path d="M2023.8 578C2024.6 578.3 2027.8 580.5 2028.8 580C2029.8 579.5 2029.6 575.8 2029.8 575" fill="none" stroke="#000" stroke-width="2" />
<path d="M2045.8 545C2047.3 546.8 2053.1 551.7 2054.8 556C2056.5 560.3 2055.6 568.5 2055.8 571" fill="none" stroke="#000" stroke-width="2.4" />
<path d="M2094 569.6L2111 564.6L2120 580.6L2119 596.6L2103 600.6L2102 577.6Z" fill="#fff" stroke="#000" stroke-width="2" />
<path d="M2102 564.6C2104.4 566.6 2113 571.1 2116 576.6C2119 582.1 2119.4 594.1 2120 597.6" fill="none" stroke="#000" stroke-width="2.2" />
<path d="M2111 565.6C2113 567.4 2120.7 572.9 2123 576.6C2125.4 580.3 2124.7 585.8 2125 587.6" fill="none" stroke="#000" stroke-width="1.8" />
<path d="M2102 577.6L2119 580.6" fill="none" stroke="#000" stroke-width="2" />
<path d="M2111 564.6L2112 578.6" fill="none" stroke="#000" stroke-width="2" />
<path d="M2069 594.6L2077 581.6L2095 569.6L2102 576.6L2105 595.6L2090.5 610.1L2081 609.2L2074 604.6Z" fill="#fff" stroke="#000" stroke-width="2" />
<path d="M2095 569.6L2089 586.6L2105 595.6" fill="none" stroke="#000" stroke-width="1.8" />
<path d="M2077 581.6L2085 589.6L2089 596.6" fill="none" stroke="#000" stroke-width="2" />
<path d="M2089 586.6L2085 589.6" fill="none" stroke="#000" stroke-width="2" />
<path d="M2089 596.6L2090.5 610.1" fill="none" stroke="#000" stroke-width="1.8" />
<path d="M2092 596.6L2105 585.6" fill="none" stroke="#000" stroke-width="2" />
<path d="M2081 609.2L2093 598.6L2105 595.6" fill="none" stroke="#000" stroke-width="1.8" />
<path d="M2070 595.6C2070.5 594.6 2071.7 590.4 2073 589.6C2074.4 588.8 2076.7 589.6 2078 590.6C2079.4 591.6 2080.5 594.8 2081 595.6" fill="none" stroke="#000" stroke-width="2.2" />
<path d="M2075 603.6C2075.9 603.9 2079 606.1 2080 605.6C2081 605.1 2080.9 601.4 2081 600.6" fill="none" stroke="#000" stroke-width="2" />
<path d="M2097 570.6C2098.5 572.4 2104.4 577.3 2106 581.6C2107.7 585.9 2106.9 594.1 2107 596.6" fill="none" stroke="#000" stroke-width="2.4" />
<path d="M2121.6 597.2L2138.6 592.2L2147.6 608.2L2146.6 624.2L2130.6 628.2L2129.6 605.2Z" fill="#fff" stroke="#000" stroke-width="2" />
<path d="M2129.6 592.2C2132 594.2 2140.6 598.7 2143.6 604.2C2146.6 609.7 2147 621.7 2147.6 625.2" fill="none" stroke="#000" stroke-width="2.2" />
<path d="M2138.6 593.2C2140.6 595 2148.3 600.5 2150.6 604.2C2153 607.9 2152.3 613.4 2152.6 615.2" fill="none" stroke="#000" stroke-width="1.8" />
<path d="M2129.6 605.2L2146.6 608.2" fill="none" stroke="#000" stroke-width="2" />
<path d="M2138.6 592.2L2139.6 606.2" fill="none" stroke="#000" stroke-width="2" />
<path d="M2096.6 622.2L2104.6 609.2L2122.6 597.2L2129.6 604.2L2132.6 623.2L2118.1 637.7L2108.6 636.8L2101.6 632.2Z" fill="#fff" stroke="#000" stroke-width="2" />
<path d="M2122.6 597.2L2116.6 614.2L2132.6 623.2" fill="none" stroke="#000" stroke-width="1.8" />
<path d="M2104.6 609.2L2112.6 617.2L2116.6 624.2" fill="none" stroke="#000" stroke-width="2" />
<path d="M2116.6 614.2L2112.6 617.2" fill="none" stroke="#000" stroke-width="2" />
<path d="M2116.6 624.2L2118.1 637.7" fill="none" stroke="#000" stroke-width="1.8" />
<path d="M2119.6 624.2L2132.6 613.2" fill="none" stroke="#000" stroke-width="2" />
<path d="M2108.6 636.8L2120.6 626.2L2132.6 623.2" fill="none" stroke="#000" stroke-width="1.8" />
<path d="M2097.6 623.2C2098.1 622.2 2099.3 618 2100.6 617.2C2102 616.4 2104.3 617.2 2105.6 618.2C2107 619.2 2108.1 622.4 2108.6 623.2" fill="none" stroke="#000" stroke-width="2.2" />
<path d="M2102.6 631.2C2103.5 631.5 2106.6 633.7 2107.6 633.2C2108.6 632.7 2108.5 629 2108.6 628.2" fill="none" stroke="#000" stroke-width="2" />
<path d="M2124.6 598.2C2126.1 600 2132 604.9 2133.6 609.2C2135.3 613.5 2134.5 621.7 2134.6 624.2" fill="none" stroke="#000" stroke-width="2.4" />
<path d="M2043.8 591.5L2051.7 582.7L2067.5 580.7L2071.4 592.5L2063.5 602.4L2051.7 604.3Z" fill="#fff" stroke="#000" stroke-width="1.8" />
<path d="M2044.8 592.5C2045.3 591.9 2046.5 589.1 2047.8 588.6C2049.1 588.1 2051.5 588.8 2052.7 589.6C2053.8 590.4 2054.4 592.9 2054.7 593.5" fill="none" stroke="#000" stroke-width="2" />
<path d="M2043.8 590.5L2049.8 586.6L2055.7 590.5" fill="none" stroke="#000" stroke-width="1.8" />
<path d="M2051.7 606.3L2057.6 599.4L2063.5 592.5" fill="none" stroke="#000" stroke-width="2.2" stroke-dasharray="3 2"/>
<ellipse cx="2181.8" cy="625" rx="5" ry="6" transform="rotate(0 2181.8 625)" fill="#fff" stroke="#000" stroke-width="2.4" />
<ellipse cx="2197.5" cy="616.2" rx="4" ry="5" transform="rotate(0 2197.5 616.2)" fill="#fff" stroke="#000" stroke-width="2.4" />
<path d="M2160.1 614.2L2207.4 600.4" fill="none" stroke="#000" stroke-width="2" />
<path d="M2154.2 622.1L2156.2 633.9L2166 630" fill="none" stroke="#000" stroke-width="2" />
<path d="M2162.1 622.1L2171.9 618.1" fill="none" stroke="#000" stroke-width="2" />
<path d="M2203.4 616.2C2204.4 618.2 2207.1 625 2209.4 628C2211.7 631 2215.9 632.9 2217.2 633.9" fill="none" stroke="#000" stroke-width="2" />
<path d="M2175.9 594.5L2179.8 592.5L2179.8 596.5" fill="none" stroke="#000" stroke-width="2" />
<path d="M2052.1 535.4L2056.5 539.7" fill="none" stroke="#000" stroke-width="1.1" />
<path d="M2067.1 542L2071.5 546.4" fill="none" stroke="#000" stroke-width="1.1" />
<path d="M2082.2 548.7L2086.5 553" fill="none" stroke="#000" stroke-width="1.1" />
<path d="M2097.2 555.3L2101.5 559.7" fill="none" stroke="#000" stroke-width="1.1" />
<path d="M2112.2 562L2116.6 566.3" fill="none" stroke="#000" stroke-width="1.1" />
<path d="M2127.2 568.6L2131.6 573" fill="none" stroke="#000" stroke-width="1.1" />
<path d="M2142.3 575.3L2146.6 579.6" fill="none" stroke="#000" stroke-width="1.1" />
<path d="M2157.3 581.9L2161.6 586.3" fill="none" stroke="#000" stroke-width="1.1" />
<path d="M2172.3 588.6L2176.7 592.9" fill="none" stroke="#000" stroke-width="1.1" />
<path d="M2011.9 571.8C2003.5 574.8 1974.8 583.4 1961.3 589.7C1947.9 595.9 1941.2 599.3 1931.1 609.3C1920.9 619.3 1905.4 642.8 1900.3 649.6" fill="none" stroke="#000" stroke-width="2" stroke-dasharray="4.5 2.5" stroke-linecap="butt"/>
<path d="M2014.7 579.8C2006.4 582.7 1977.8 591.4 1964.9 597.3C1951.9 603.2 1946.6 605.7 1936.9 615.3C1927.3 624.8 1911.9 648.1 1906.9 654.6" fill="none" stroke="#000" stroke-width="2" stroke-dasharray="4.5 2.5" stroke-linecap="butt"/>
<path d="M2043.9 595.6C2042.3 596.5 2042.1 594.8 2034.1 600.6C2026.1 606.4 2009.3 616.6 1995.9 630.4C1982.5 644.1 1967.4 665.5 1953.7 683C1940 700.6 1923.9 720.6 1913.7 735.7C1903.5 750.7 1896.1 767.2 1892.6 773.6" fill="none" stroke="#000" stroke-width="2" stroke-dasharray="4.5 2.5" stroke-linecap="butt"/>
<path d="M2047.7 603.2C2046.2 603.9 2046.7 601.9 2039.1 607.4C2031.4 612.9 2015 622.8 2001.9 636.2C1988.8 649.7 1973.8 670.8 1960.3 688.2C1946.8 705.5 1930.7 725.4 1920.7 740.3C1910.6 755.3 1903.4 771.4 1900 777.6" fill="none" stroke="#000" stroke-width="2" stroke-dasharray="4.5 2.5" stroke-linecap="butt"/>
<path d="M2060.4 611.9C2054.8 619.7 2037.3 641.1 2026.7 658.3C2016.2 675.5 2004.9 697 1997.1 715.4C1989.4 733.7 1985 749.4 1980.1 768.4C1975.3 787.3 1970 819.1 1968 829.3" fill="none" stroke="#000" stroke-width="2" stroke-dasharray="4.5 2.5" stroke-linecap="butt"/>
<path d="M2067.2 616.9C2061.6 624.5 2044.3 645.7 2033.9 662.7C2023.5 679.7 2012.5 700.7 2004.9 718.6C1997.3 736.6 1993 751.7 1988.3 770.4C1983.5 789.2 1978.2 820.8 1976.2 830.9" fill="none" stroke="#000" stroke-width="2" stroke-dasharray="4.5 2.5" stroke-linecap="butt"/>
<path d="M2085.1 629.3C2082.3 635 2072 649 2068.1 663.6C2064.2 678.2 2062.4 700.8 2061.7 716.8C2061 732.8 2062.4 748.1 2063.8 759.4C2065.3 770.8 2069.2 780.8 2070.2 785" fill="none" stroke="#000" stroke-width="2" stroke-dasharray="4.5 2.5" stroke-linecap="butt"/>
<path d="M2092.7 633.1C2089.9 638.5 2080 651.8 2076.3 665.8C2072.5 679.8 2070.8 701.8 2070.1 717.2C2069.4 732.6 2070.8 747.4 2072.2 758.4C2073.5 769.3 2077.3 778.9 2078.4 783" fill="none" stroke="#000" stroke-width="2" stroke-dasharray="4.5 2.5" stroke-linecap="butt"/>
<path d="M1884.8 671L1894.2 677.2L1892.1 687.7L1879.6 690.8L1875.4 683.5Z" fill="#fff" stroke="#000" stroke-width="2" />
<ellipse cx="1879.6" cy="690.8" rx="9" ry="9" transform="rotate(0 1879.6 690.8)" fill="#fff" stroke="#000" stroke-width="2" />
<ellipse cx="1879.6" cy="690.8" rx="4.2" ry="3.3" transform="rotate(-20 1879.6 690.8)" fill="none" stroke="#000" stroke-width="2" />
<path d="M1884.8 668.9L1897.4 657.4L1905.7 666.8L1894.2 677.2Z" fill="#fff" stroke="#000" stroke-width="2" />
<path d="M1880.6 789.2L1889 795.5L1886.9 805L1873.3 809.1L1870.1 800.8Z" fill="#fff" stroke="#000" stroke-width="2" />
<ellipse cx="1873.3" cy="809.1" rx="9" ry="9" transform="rotate(0 1873.3 809.1)" fill="#fff" stroke="#000" stroke-width="2" />
<ellipse cx="1873.3" cy="809.1" rx="4.2" ry="3.3" transform="rotate(-20 1873.3 809.1)" fill="none" stroke="#000" stroke-width="2" />
<path d="M1880.6 787.2L1892.1 776.7L1900.5 785.1L1889 795.5Z" fill="#fff" stroke="#000" stroke-width="2" />
<path d="M1959.1 843.7L1969.6 848.9L1969.6 859.4L1958.1 866.7L1951.8 859.4Z" fill="#fff" stroke="#000" stroke-width="2" />
<ellipse cx="1958.1" cy="866.7" rx="9" ry="9" transform="rotate(0 1958.1 866.7)" fill="#fff" stroke="#000" stroke-width="2" />
<ellipse cx="1958.1" cy="866.7" rx="4.2" ry="3.3" transform="rotate(-30 1958.1 866.7)" fill="none" stroke="#000" stroke-width="2" />
<path d="M1959.1 841.6L1967.5 831.1L1978 837.4L1969.6 848.9Z" fill="#fff" stroke="#000" stroke-width="2" />
<path d="M2073.2 800.8L2085.8 795.5L2097.3 809.1L2090 816.5L2080.5 813.3Z" fill="#fff" stroke="#000" stroke-width="2" />
<ellipse cx="2090" cy="816.5" rx="9" ry="9" transform="rotate(0 2090 816.5)" fill="#fff" stroke="#000" stroke-width="2" />
<ellipse cx="2090" cy="816.5" rx="4.2" ry="3.3" transform="rotate(80 2090 816.5)" fill="none" stroke="#000" stroke-width="2" />
<path d="M2069 787.2L2081.6 783L2085.8 795.5L2073.2 800.8Z" fill="#fff" stroke="#000" stroke-width="2" />
<g opacity="0.999"><!--TEXTGROUP-->
<text x="308.5" y="281.3" font-size="32.7" font-family='"Liberation Sans", sans-serif' font-weight="normal" text-anchor="start" stroke="#000" stroke-width="0.65" textLength="265" lengthAdjust="spacingAndGlyphs">To Coulombmeter</text>
<text x="351" y="320" font-size="32.5" font-family='"Liberation Serif", "Noto Serif CJK SC", serif' font-weight="normal" text-anchor="start" stroke="#000" stroke-width="0.45" textLength="129.5" lengthAdjust="spacing">接电量表</text>
<text x="808.5" y="486.6" font-size="32.7" font-family='"Liberation Sans", sans-serif' font-weight="normal" text-anchor="start" stroke="#000" stroke-width="0.65" textLength="302.5" lengthAdjust="spacingAndGlyphs">To Charging Locking</text>
<text x="865.5" y="526" font-size="32.5" font-family='"Liberation Serif", "Noto Serif CJK SC", serif' font-weight="normal" text-anchor="start" stroke="#000" stroke-width="0.45" textLength="164" lengthAdjust="spacing">接充电锁止</text>
<text x="1698.5" y="720" font-size="32.5" font-family='"Liberation Serif", "Noto Serif CJK SC", serif' font-weight="normal" text-anchor="start" stroke="#000" stroke-width="0.45" textLength="164" lengthAdjust="spacing">接电机正极</text>
<text x="1701.5" y="754" font-size="32.7" font-family='"Liberation Sans", sans-serif' font-weight="normal" text-anchor="start" stroke="#000" stroke-width="0.65" textLength="150.5" lengthAdjust="spacingAndGlyphs">To Motor+</text>
<text x="1706.5" y="852" font-size="32.5" font-family='"Liberation Serif", "Noto Serif CJK SC", serif' font-weight="normal" text-anchor="start" stroke="#000" stroke-width="0.45" textLength="166" lengthAdjust="spacing">接电机负极</text>
<text x="1712" y="884.4" font-size="32.7" font-family='"Liberation Sans", sans-serif' font-weight="normal" text-anchor="start" stroke="#000" stroke-width="0.65" textLength="140" lengthAdjust="spacingAndGlyphs">To Motor-</text>
<text x="1888" y="911" font-size="32.5" font-family='"Liberation Serif", "Noto Serif CJK SC", serif' font-weight="normal" text-anchor="start" stroke="#000" stroke-width="0.45" textLength="128.5" lengthAdjust="spacing">接泵负极</text>
<text x="1891" y="944.7" font-size="32.7" font-family='"Liberation Sans", sans-serif' font-weight="normal" text-anchor="start" stroke="#000" stroke-width="0.65" textLength="144" lengthAdjust="spacingAndGlyphs">To Pump-</text>
<text x="2079" y="869" font-size="32.5" font-family='"Liberation Serif", "Noto Serif CJK SC", serif' font-weight="normal" text-anchor="start" stroke="#000" stroke-width="0.45" textLength="162.5" lengthAdjust="spacing">接泵接触器</text>
<text x="2081.5" y="902.1" font-size="32.7" font-family='"Liberation Sans", sans-serif' font-weight="normal" text-anchor="start" stroke="#000" stroke-width="0.65" textLength="132.5" lengthAdjust="spacingAndGlyphs">To Pump</text>
<text x="2081.5" y="942.1" font-size="32.7" font-family='"Liberation Sans", sans-serif' font-weight="normal" text-anchor="start" stroke="#000" stroke-width="0.65" textLength="141.5" lengthAdjust="spacingAndGlyphs">Contactor</text>
<text x="1522.3" y="1524.5" font-size="32.5" font-family='"Liberation Serif", "Noto Serif CJK SC", serif' font-weight="normal" text-anchor="start" stroke="#000" stroke-width="0.45" textLength="131.5" lengthAdjust="spacing">接制动器</text>
<text x="1523.5" y="1557.5" font-size="32.7" font-family='"Liberation Sans", sans-serif' font-weight="normal" text-anchor="start" stroke="#000" stroke-width="0.65" textLength="209.5" lengthAdjust="spacingAndGlyphs">To Brake Wire</text>
<text x="2075.3" y="1604.2" font-size="32.7" font-family='"Liberation Sans", sans-serif' font-weight="normal" text-anchor="start" stroke="#000" stroke-width="0.65" textLength="217" lengthAdjust="spacingAndGlyphs">fig5310003300</text>
<text x="825.5" y="61.2" font-size="33.5" font-family='"Liberation Sans", sans-serif' font-weight="normal" text-anchor="start" stroke="#000" stroke-width="1.2">2</text>
<clipPath id="c1"><rect x="985" y="860" width="40" height="30.4"/><rect x="1003.6" y="890" width="5.4" height="6"/></clipPath>
<text x="996.3" y="893.9" font-size="33.5" font-family='"Liberation Sans", sans-serif' font-weight="normal" text-anchor="start" stroke="#000" stroke-width="1.2" clip-path="url(#c1)">1</text>
<text x="1888.5" y="1326" font-size="33.5" font-family='"Liberation Sans", sans-serif' font-weight="normal" text-anchor="start" stroke="#000" stroke-width="1.2">3</text>
<text x="917" y="1564" font-size="33.5" font-family='"Liberation Sans", sans-serif' font-weight="normal" text-anchor="start" stroke="#000" stroke-width="1.2">4</text>
</g>
<path d="M831.9 70.6L831.9 143.6" fill="none" stroke="#000" stroke-width="2" stroke-linecap="butt"/>
<path d="M1004.1 901L1004.1 975.8" fill="none" stroke="#000" stroke-width="2" stroke-linecap="butt"/>
<path d="M868.2 1553.6L916.1 1553.6" fill="none" stroke="#000" stroke-width="2" stroke-linecap="butt"/>
<rect x="726.4" y="1502.7" width="137.5" height="91.6" fill="none" stroke="#000" stroke-width="2" stroke-dasharray="8 4.8"/>
<path d="M818.8 1338.9C818 1344.9 816.5 1358.2 814.3 1374.6C812.1 1391 808.2 1419.2 805.4 1437.1C802.6 1455 799.1 1470.9 797.3 1481.8C795.5 1492.7 795 1498.9 794.6 1502.3" fill="none" stroke="#000" stroke-width="2" stroke-dasharray="8 4.8" stroke-linecap="butt"/>
<path d="M750.9 1539.8L758.9 1539.8L783.9 1552.3L781.2 1557.7L753.6 1545.2Z" fill="#fff" stroke="#000" stroke-width="1.7" />
<path d="M772.3 1529.1L780.4 1529.1L807.1 1541.6L797.3 1547L775 1535.4Z" fill="#fff" stroke="#000" stroke-width="1.7" />
<path d="M758.9 1539.8L761.6 1543.4" fill="none" stroke="#000" stroke-width="1.7" />
<path d="M780.4 1529.1L778.6 1532.7L803.6 1544.3" fill="none" stroke="#000" stroke-width="1.7" />
<path d="M761.6 1543.4L783 1554.1" fill="none" stroke="#000" stroke-width="1.7" />
<path d="M781.2 1556.8L810.7 1540.7L839.3 1554.1L839.3 1562.1L808 1578.2L781.2 1564.8Z" fill="#fff" stroke="#000" stroke-width="1.7" />
<path d="M781.2 1556.8L808 1569.3L839.3 1554.1" fill="none" stroke="#000" stroke-width="1.7" />
<path d="M808 1569.3L808 1578.2" fill="none" stroke="#000" stroke-width="1.7" />
</svg>
</body></html>
